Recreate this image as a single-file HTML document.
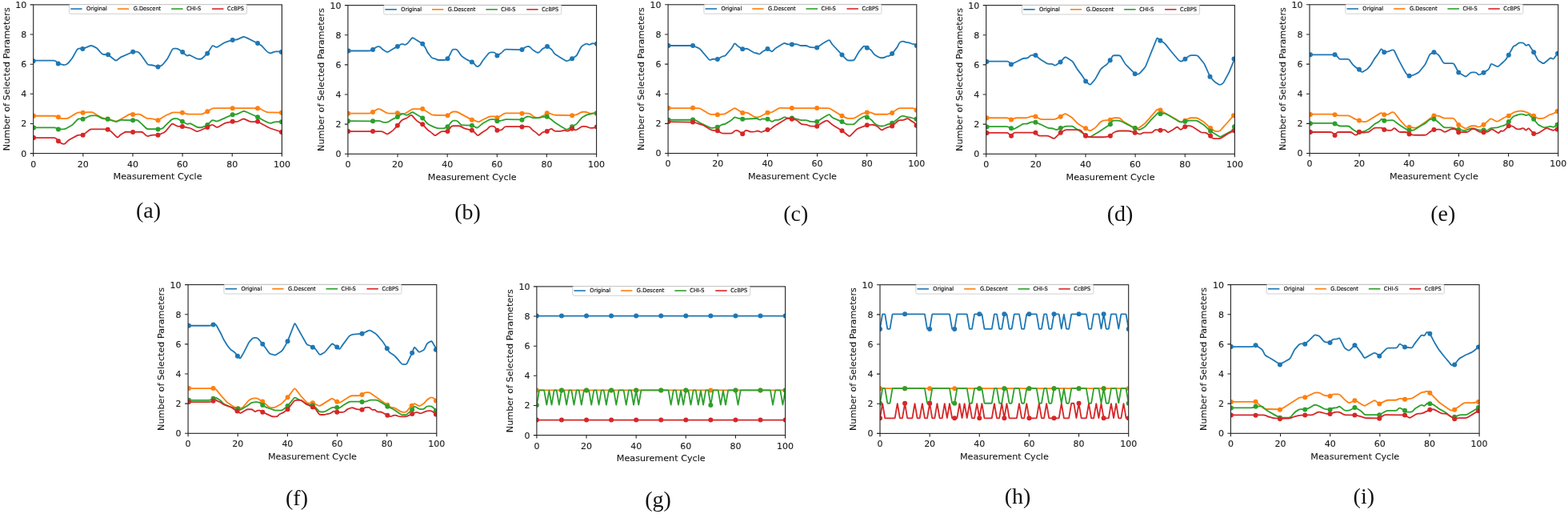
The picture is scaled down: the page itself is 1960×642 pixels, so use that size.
<!DOCTYPE html>
<html><head><meta charset="utf-8"><style>
html,body{margin:0;padding:0;background:#fff;}
svg{display:block;}
.t{font-family:"DejaVu Sans","Liberation Sans",sans-serif;font-size:11px;fill:#1a1a1a;stroke:#1a1a1a;stroke-width:0.12px;}
.al{font-size:11.2px;}
.lg{font-family:"DejaVu Sans","Liberation Sans",sans-serif;font-size:7px;fill:#111;stroke:#111;stroke-width:0.18px;}
.cap{font-family:"Liberation Serif",serif;font-size:28px;fill:#111;}
</style></head><body>
<svg width="1960" height="642" viewBox="0 0 1960 642">
<rect width="1960" height="642" fill="#fff"/>
<clipPath id="cpa"><rect x="41.7" y="5.9" width="310.7" height="185.7"/></clipPath>
<g clip-path="url(#cpa)"><path d="M41.27,75.71L67.22,75.71Q69.02,75.71 70.29,76.99L71.5,78.2Q72.78,79.47 74.52,79.91L78.7,80.98Q80.45,81.43 82.12,80.76L82.86,80.46Q84.53,79.8 85.67,78.4L89.11,74.17Q90.24,72.78 91.12,71.2L95.9,62.59Q96.78,61.02 98.54,60.67L99.09,60.56Q100.86,60.2 102.08,60.61L102.08,60.61Q103.31,61.02 104.97,60.33L112.26,57.3Q113.92,56.61 115.54,57.4L119.65,59.41Q121.27,60.2 122.43,61.57L126.63,66.51Q127.8,67.88 129.59,68L133.35,68.25Q135.14,68.37 136.56,69.48L143.52,74.93Q144.94,76.04 146.36,74.94L149.23,72.73Q150.65,71.63 152.3,70.9L164.52,65.5Q166.16,64.78 167.96,64.73L170.89,64.66Q172.69,64.61 173.89,65.95L175.58,67.84Q176.78,69.18 177.8,70.66L183.91,79.46Q184.94,80.94 186.73,81.09L188.86,81.27Q190.65,81.43 192.37,81.96L195.79,83.02Q197.51,83.55 199.18,82.89L201.22,82.09Q202.9,81.43 204.02,80.02L208.3,74.67Q209.43,73.27 210.25,71.66L215.14,62.13Q215.96,60.53 217.76,60.53L219.87,60.53Q221.67,60.53 223.15,61.56L226.73,64.07Q228.2,65.1 229.57,66.27L232.55,68.83Q233.92,70 235.14,69.18L235.14,69.18Q236.37,68.37 237.97,69.18L245.37,72.94Q246.98,73.76 248.78,73.76L250.08,73.76Q251.88,73.76 253.18,72.51L257.92,67.98Q259.22,66.73 260.2,65.22L264.78,58.12Q265.76,56.61 267.32,57.5L269.09,58.5Q270.65,59.39 272.19,58.44L279.73,53.8Q281.27,52.86 282.98,52.32L289.02,50.45Q290.73,49.92 292.53,49.81L294.16,49.7Q295.96,49.59 297.59,48.84L302.49,46.59Q304.12,45.84 305.35,46.08L305.35,46.08Q306.57,46.33 308.18,47.12L320.47,53.2Q322.08,54 323.63,54.93L325.44,56.01Q326.98,56.94 328.18,58.28L333.12,63.76Q334.33,65.1 336,65.77L336.74,66.07Q338.41,66.73 340.02,65.93L341.7,65.09Q343.31,64.29 345.11,64.29L352.29,64.29" fill="none" stroke="#1f77b4" stroke-width="1.8" stroke-linejoin="round"/><circle cx="41.59" cy="76.2" r="3.0" fill="#1f77b4"/><circle cx="72.78" cy="79.47" r="3.0" fill="#1f77b4"/><circle cx="103.31" cy="61.02" r="3.0" fill="#1f77b4"/><circle cx="135.14" cy="68.37" r="3.0" fill="#1f77b4"/><circle cx="166.16" cy="64.78" r="3.0" fill="#1f77b4"/><circle cx="197.51" cy="83.55" r="3.0" fill="#1f77b4"/><circle cx="228.2" cy="65.1" r="3.0" fill="#1f77b4"/><circle cx="259.22" cy="66.73" r="3.0" fill="#1f77b4"/><circle cx="290.73" cy="49.92" r="3.0" fill="#1f77b4"/><circle cx="322.08" cy="54" r="3.0" fill="#1f77b4"/><circle cx="351.8" cy="65.1" r="3.0" fill="#1f77b4"/><path d="M42.05,144.75L67.59,144.75Q69.39,144.75 71.05,145.46L71.28,145.56Q72.94,146.27 74.46,147.18L74.46,147.18Q75.97,148.09 77.77,148.09L82.78,148.09Q84.58,148.09 86.1,147.13L89.14,145.2Q90.66,144.24 92.22,143.35L96.18,141.08Q97.75,140.19 99.54,140.34L101.83,140.54Q103.62,140.7 105.41,140.52L107.09,140.36Q108.89,140.19 110.69,140.19L114.17,140.19Q115.97,140.19 117.47,141.19L120.55,143.24Q122.05,144.24 123.66,145.05L127.53,146.98Q129.14,147.78 130.92,148.01L132.92,148.27Q134.71,148.49 136.43,149.03L143.62,151.3Q145.34,151.84 146.95,151.03L147.78,150.62Q149.39,149.81 150.95,148.91L161,143.11Q162.56,142.22 164.31,142.62L164.35,142.62Q166.1,143.03 167.9,142.9L172.91,142.54Q174.71,142.42 176.24,143.37L182.29,147.14Q183.82,148.09 185.62,148.09L188.1,148.09Q189.9,148.09 191.63,148.6L195.77,149.81Q197.49,150.32 197.51,150.32L197.51,150.32Q197.53,150.32 199.04,149.34L204.63,145.72Q206.14,144.75 207.78,144L214.12,141.13Q215.76,140.39 217.56,140.44L226.11,140.65Q227.91,140.7 229.63,141.23L232.77,142.19Q234.49,142.72 236.29,142.72L250.92,142.72Q252.72,142.72 254.31,141.87L257.72,140.03Q259.3,139.18 260.84,138.23L264.35,136.07Q265.89,135.13 267.69,135.13L288.9,135.13Q290.7,135.13 292.5,135.13L320.29,135.13Q322.09,135.13 323.82,135.62L323.9,135.64Q325.63,136.14 327.23,136.98L332.14,139.56Q333.73,140.39 335.53,140.42L352.47,140.7" fill="none" stroke="#ff7f0e" stroke-width="1.8" stroke-linejoin="round"/><circle cx="42.05" cy="144.75" r="3.0" fill="#ff7f0e"/><circle cx="72.94" cy="146.27" r="3.0" fill="#ff7f0e"/><circle cx="103.62" cy="140.7" r="3.0" fill="#ff7f0e"/><circle cx="134.71" cy="148.49" r="3.0" fill="#ff7f0e"/><circle cx="166.1" cy="143.03" r="3.0" fill="#ff7f0e"/><circle cx="197.53" cy="150.32" r="3.0" fill="#ff7f0e"/><circle cx="227.91" cy="140.7" r="3.0" fill="#ff7f0e"/><circle cx="259.3" cy="139.18" r="3.0" fill="#ff7f0e"/><circle cx="290.7" cy="135.13" r="3.0" fill="#ff7f0e"/><circle cx="322.09" cy="135.13" r="3.0" fill="#ff7f0e"/><circle cx="351.96" cy="140.7" r="3.0" fill="#ff7f0e"/><path d="M42.05,159.43L67.59,159.43Q69.39,159.43 70.96,160.32L71.37,160.56Q72.94,161.46 74.74,161.41L79.74,161.3Q81.54,161.25 83.1,160.34L89.11,156.8Q90.66,155.89 91.89,154.57L96.52,149.61Q97.75,148.29 99.54,148.45L101.83,148.64Q103.62,148.8 105.25,148.04L111.31,145.21Q112.94,144.44 114.74,144.4L119.24,144.29Q121.04,144.24 122.6,145.13L126.56,147.4Q128.13,148.29 129.92,148.43L132.91,148.66Q134.71,148.8 136.43,149.34L143.62,151.6Q145.34,152.14 146.98,151.39L148.77,150.56Q150.41,149.81 152.2,149.87L164.3,150.26Q166.1,150.32 167.89,150.15L169.88,149.97Q171.67,149.81 173,151.03L176.42,154.16Q177.75,155.38 179.04,156.63L182.53,160Q183.82,161.25 185.62,161.25L195.69,161.25Q197.49,161.25 197.51,161.35L197.51,161.35Q197.53,161.46 199.31,161.2L201.32,160.9Q203.1,160.65 204.35,159.35L206.92,156.68Q208.16,155.38 209.48,154.15L214.44,149.52Q215.76,148.29 217.56,148.23L220.04,148.15Q221.84,148.09 223.37,149.03L226.38,150.89Q227.91,151.84 229.49,152.7L232.41,154.31Q233.99,155.18 235.67,154.55L235.84,154.49Q237.53,153.86 239.1,154.74L245.58,158.35Q247.15,159.23 248.95,159.23L250.92,159.23Q252.72,159.23 254.33,158.41L257.7,156.7Q259.3,155.89 260.58,154.61L264.11,151.08Q265.38,149.81 267.07,150.43L269.26,151.22Q270.95,151.84 272.6,151.12L289.05,143.95Q290.7,143.23 292.49,143.06L294.47,142.88Q296.27,142.72 297.88,141.92L302.76,139.48Q304.37,138.67 306.08,139.23L306.71,139.43Q308.42,139.99 310.05,140.74L320.45,145.51Q322.09,146.27 323.66,147.15L329.13,150.24Q330.7,151.13 332.35,151.84L336.13,153.46Q337.78,154.16 339.49,153.6L342.15,152.71Q343.86,152.14 345.66,152.14L352.47,152.14" fill="none" stroke="#2ca02c" stroke-width="1.8" stroke-linejoin="round"/><circle cx="42.05" cy="159.43" r="3.0" fill="#2ca02c"/><circle cx="72.94" cy="161.46" r="3.0" fill="#2ca02c"/><circle cx="103.62" cy="148.8" r="3.0" fill="#2ca02c"/><circle cx="134.71" cy="148.8" r="3.0" fill="#2ca02c"/><circle cx="166.1" cy="150.32" r="3.0" fill="#2ca02c"/><circle cx="197.53" cy="161.46" r="3.0" fill="#2ca02c"/><circle cx="227.91" cy="151.84" r="3.0" fill="#2ca02c"/><circle cx="259.3" cy="155.89" r="3.0" fill="#2ca02c"/><circle cx="290.7" cy="143.23" r="3.0" fill="#2ca02c"/><circle cx="322.09" cy="146.27" r="3.0" fill="#2ca02c"/><circle cx="351.96" cy="152.14" r="3.0" fill="#2ca02c"/><path d="M42.05,172.09L67.59,172.09Q69.39,172.09 70.58,173.44L71.75,174.78Q72.94,176.14 74.3,177.31L75.11,178.01Q76.48,179.18 78.23,179.61L78.79,179.75Q80.53,180.19 81.8,178.92L84.32,176.4Q85.59,175.13 87.18,174.27L96.16,169.4Q97.75,168.54 99.55,168.61L101.82,168.68Q103.62,168.75 105.04,167.64L111.52,162.57Q112.94,161.46 114.74,161.46L130.88,161.46Q132.68,161.46 133.7,161.56L133.7,161.56Q134.71,161.66 136.24,162.61L137.74,163.54Q139.27,164.49 140.54,165.77L145.59,170.82Q146.86,172.09 148.13,170.82L149.13,169.82Q150.41,168.54 151.93,167.58L154.96,165.66Q156.48,164.7 158.28,164.75L164.3,164.94Q166.1,165 167.9,164.95L175.95,164.74Q177.75,164.7 179.06,165.92L182.51,169.14Q183.82,170.37 185.57,169.92L189.17,168.99Q190.91,168.54 192.71,168.6L195.69,168.69Q197.49,168.75 197.51,168.75L197.51,168.75Q197.53,168.75 199.18,168.03L204.49,165.72Q206.14,165 207.3,163.62L214.09,155.54Q215.25,154.16 216.82,155.06L220.27,157.02Q221.84,157.91 223.64,157.91L226.11,157.91Q227.91,157.91 229.66,158.35L232.24,158.99Q233.99,159.43 235.76,159.68L235.76,159.68Q237.53,159.94 239.14,160.74L245.04,163.69Q246.65,164.49 248.29,163.77L257.66,159.65Q259.3,158.92 260.86,158.02L263.82,156.29Q265.38,155.38 266.88,156.38L269.96,158.43Q271.46,159.43 273.01,158.53L279.52,154.76Q281.08,153.86 282.84,153.49L288.93,152.21Q290.7,151.84 292.49,152L294.47,152.18Q296.27,152.34 297.86,151.51L302.77,148.93Q304.37,148.09 306,148.86L311.35,151.37Q312.97,152.14 314.77,152.08L320.29,151.9Q322.09,151.84 323.66,152.7L335.2,159.07Q336.77,159.94 338.49,160.49L352.47,165" fill="none" stroke="#d62728" stroke-width="1.8" stroke-linejoin="round"/><circle cx="42.05" cy="172.09" r="3.0" fill="#d62728"/><circle cx="72.94" cy="176.14" r="3.0" fill="#d62728"/><circle cx="103.62" cy="168.75" r="3.0" fill="#d62728"/><circle cx="134.71" cy="161.66" r="3.0" fill="#d62728"/><circle cx="166.1" cy="165" r="3.0" fill="#d62728"/><circle cx="197.53" cy="168.75" r="3.0" fill="#d62728"/><circle cx="227.91" cy="157.91" r="3.0" fill="#d62728"/><circle cx="259.3" cy="158.92" r="3.0" fill="#d62728"/><circle cx="290.7" cy="151.84" r="3.0" fill="#d62728"/><circle cx="322.09" cy="151.84" r="3.0" fill="#d62728"/><circle cx="351.96" cy="165" r="3.0" fill="#d62728"/></g>
<rect x="41.7" y="5.9" width="310.7" height="185.7" fill="none" stroke="#222" stroke-width="1.1"/>
<path d="M37.7,191.6H41.7M41.7,191.6V195.6M37.7,154.46H41.7M103.84,191.6V195.6M37.7,117.32H41.7M165.98,191.6V195.6M37.7,80.18H41.7M228.12,191.6V195.6M37.7,43.04H41.7M290.26,191.6V195.6M37.7,5.9H41.7M352.4,191.6V195.6" stroke="#222" stroke-width="1.1"/>
<text x="33.2" y="195.5" text-anchor="end" class="t">0</text>
<text x="41.7" y="208.5" text-anchor="middle" class="t">0</text>
<text x="33.2" y="158.36" text-anchor="end" class="t">2</text>
<text x="103.84" y="208.5" text-anchor="middle" class="t">20</text>
<text x="33.2" y="121.22" text-anchor="end" class="t">4</text>
<text x="165.98" y="208.5" text-anchor="middle" class="t">40</text>
<text x="33.2" y="84.08" text-anchor="end" class="t">6</text>
<text x="228.12" y="208.5" text-anchor="middle" class="t">60</text>
<text x="33.2" y="46.94" text-anchor="end" class="t">8</text>
<text x="290.26" y="208.5" text-anchor="middle" class="t">80</text>
<text x="33.2" y="9.8" text-anchor="end" class="t">10</text>
<text x="352.4" y="208.5" text-anchor="middle" class="t">100</text>
<text x="197.05" y="224.4" text-anchor="middle" class="t al">Measurement Cycle</text>
<text transform="translate(11.7,98.75) rotate(-90)" text-anchor="middle" class="t al">Number of Selected Parameters</text>
<rect x="86.55" y="5.5" width="222" height="11.8" rx="1.5" fill="#fff" fill-opacity="0.9" stroke="#ccc" stroke-width="0.9"/>
<path d="M88.25,11.1H102.65" stroke="#1f77b4" stroke-width="1.6"/>
<text x="108.05" y="13.3" class="lg" textLength="25.8" lengthAdjust="spacingAndGlyphs">Original</text>
<path d="M146.85,11.1H161.15" stroke="#ff7f0e" stroke-width="1.6"/>
<text x="166.65" y="13.3" class="lg" textLength="34.6" lengthAdjust="spacingAndGlyphs">G.Descent</text>
<path d="M214.15,11.1H228.65" stroke="#2ca02c" stroke-width="1.6"/>
<text x="233.15" y="13.3" class="lg" textLength="18.2" lengthAdjust="spacingAndGlyphs">CHI-S</text>
<path d="M265.05,11.1H279.45" stroke="#d62728" stroke-width="1.6"/>
<text x="284.05" y="13.3" class="lg" textLength="20.8" lengthAdjust="spacingAndGlyphs">CcBPS</text>
<text x="185.5" y="271.5" text-anchor="middle" class="cap">(a)</text>
<clipPath id="cpb"><rect x="434.9" y="6.6" width="310.7" height="185.7"/></clipPath>
<g clip-path="url(#cpb)"><path d="M435.21,63.5L460.98,63.5Q462.78,63.5 464.41,62.8L464.41,62.8Q466.05,62.1 467.48,61.01L469.76,59.27Q471.19,58.18 472.82,58.04L472.82,58.04Q474.46,57.9 475.73,59.17L477.39,60.83Q478.66,62.1 480.22,63.01L482.72,64.47Q484.27,65.37 485.8,64.42L490.22,61.65Q491.75,60.7 493.33,59.84L495.31,58.76Q496.89,57.9 498.45,57.01L501.4,55.33Q502.96,54.44 504.53,55.33L504.67,55.42Q506.23,56.31 507.74,55.32L508,55.15Q509.5,54.16 510.64,52.76L514.44,48.08Q515.58,46.68 517.1,47.64L526.67,53.67Q528.2,54.63 529.28,56.07L529.92,56.92Q531,58.36 531.8,59.97L533.93,64.23Q534.74,65.84 535.86,67.25L539.22,71.44Q540.35,72.85 541.75,72.85L541.75,72.85Q543.15,72.85 544.71,73.75L545.33,74.1Q546.89,75 548.69,75L554.43,75Q556.23,75 557.83,74.18L557.9,74.14Q559.5,73.32 560.46,71.79L560.89,71.11Q561.84,69.58 562.61,67.95L564.81,63.26Q565.58,61.64 567.38,61.64L569.39,61.64Q571.19,61.64 572.19,63.13L575.8,68.55Q576.79,70.05 578.29,71.05L580.9,72.79Q582.4,73.79 584.01,74.59L588.27,76.72Q589.88,77.52 590.34,77.52L590.34,77.52Q590.8,77.52 592.02,78.85L595.19,82.28Q596.41,83.6 597.97,82.71L598.12,82.62Q599.68,81.73 600.63,80.2L602.48,77.19Q603.42,75.65 604.56,74.26L610.69,66.77Q611.83,65.37 613.63,65.37L616.57,65.37Q618.37,65.37 619.47,66.8L620.36,67.96Q621.46,69.39 622.99,68.45L625.72,66.78Q627.25,65.84 628.45,64.5L629.79,62.98Q630.99,61.64 632.79,61.67L650.69,62.06Q652.49,62.1 653.92,61.01L656.2,59.27Q657.63,58.18 659.42,58.06L660.04,58.02Q661.83,57.9 663.03,59.24L664.37,60.76Q665.57,62.1 667.1,63.05L670.11,64.9Q671.64,65.84 672.81,65.75L672.81,65.75Q673.98,65.65 675.13,64.27L676.57,62.55Q677.72,61.17 679.32,60.34L682.47,58.72Q684.07,57.9 685.53,58.95L688.41,61.05Q689.87,62.1 690.84,63.62L692.17,65.72Q693.14,67.24 694.66,68.21L696.76,69.55Q698.28,70.51 699.83,71.43L707.01,75.67Q708.56,76.59 710.17,75.78L713.49,74.12Q715.1,73.32 716.6,72.32L719.21,70.58Q720.71,69.58 721.54,67.98L725.95,59.49Q726.79,57.9 728.35,57L731.76,55.05Q733.33,54.16 734.83,55.15L735.09,55.32Q736.6,56.31 738.1,55.32L738.36,55.15Q739.87,54.16 741.66,54.29L746.41,54.63" fill="none" stroke="#1f77b4" stroke-width="1.8" stroke-linejoin="round"/><circle cx="435.49" cy="63.5" r="3.0" fill="#1f77b4"/><circle cx="466.05" cy="62.1" r="3.0" fill="#1f77b4"/><circle cx="496.89" cy="57.9" r="3.0" fill="#1f77b4"/><circle cx="528.2" cy="54.63" r="3.0" fill="#1f77b4"/><circle cx="559.5" cy="73.32" r="3.0" fill="#1f77b4"/><circle cx="589.88" cy="77.52" r="3.0" fill="#1f77b4"/><circle cx="621.46" cy="69.39" r="3.0" fill="#1f77b4"/><circle cx="652.49" cy="62.1" r="3.0" fill="#1f77b4"/><circle cx="684.07" cy="57.9" r="3.0" fill="#1f77b4"/><circle cx="715.1" cy="73.32" r="3.0" fill="#1f77b4"/><circle cx="745.94" cy="54.63" r="3.0" fill="#1f77b4"/><path d="M435.21,141.64L460.98,141.64Q462.78,141.64 464.38,140.81L464.45,140.78Q466.05,139.95 467.54,138.95L470.16,137.21Q471.65,136.21 473.29,136.21L473.29,136.21Q474.93,136.21 476.48,137.12L482.71,140.73Q484.27,141.64 486.07,141.64L495.09,141.64Q496.89,141.64 498.68,141.77L503.97,142.16Q505.77,142.29 507.28,141.31L513.6,137.2Q515.11,136.21 516.91,136.19L526.4,136.05Q528.2,136.03 529.72,136.99L538.82,142.73Q540.35,143.69 542.15,143.74L557.71,144.11Q559.5,144.16 560.93,143.06L564.15,140.58Q565.58,139.49 567.38,139.49L569.39,139.49Q571.19,139.49 572.76,140.35L588.3,148.9Q589.88,149.77 590.34,149.63L590.34,149.63Q590.8,149.49 592.47,150.17L596.62,151.88Q598.28,152.57 599.82,151.64L601.41,150.69Q602.95,149.77 604.58,149L610.67,146.14Q612.3,145.37 614.1,145.37L617.04,145.37Q618.84,145.37 620.15,146.17L620.15,146.17Q621.46,146.96 622.95,146.17L622.95,146.17Q624.45,145.37 625.98,144.43L629.46,142.3Q630.99,141.36 632.79,141.36L650.69,141.36Q652.49,141.36 654.29,141.41L660.03,141.58Q661.83,141.64 663.28,142.71L666.93,145.42Q668.37,146.5 670.15,146.78L671.27,146.96Q673.05,147.24 674.67,146.48L677.96,144.93Q679.59,144.16 681.09,143.16L682.3,142.35Q683.79,141.36 685.58,141.55L686.21,141.62Q688,141.82 689.67,142.49L691,143.02Q692.67,143.69 694.47,143.73L713.3,144.12Q715.1,144.16 716.88,143.86L718.93,143.52Q720.71,143.22 722.3,142.38L725.66,140.61Q727.25,139.77 729.05,139.77L731.06,139.77Q732.86,139.77 734.51,140.49L735.89,141.1Q737.53,141.82 739.33,141.67L746.41,141.07" fill="none" stroke="#ff7f0e" stroke-width="1.8" stroke-linejoin="round"/><circle cx="435.21" cy="141.64" r="3.0" fill="#ff7f0e"/><circle cx="466.05" cy="139.95" r="3.0" fill="#ff7f0e"/><circle cx="496.89" cy="141.36" r="3.0" fill="#ff7f0e"/><circle cx="528.2" cy="136.03" r="3.0" fill="#ff7f0e"/><circle cx="559.5" cy="144.16" r="3.0" fill="#ff7f0e"/><circle cx="589.88" cy="149.77" r="3.0" fill="#ff7f0e"/><circle cx="621.46" cy="146.96" r="3.0" fill="#ff7f0e"/><circle cx="652.49" cy="141.64" r="3.0" fill="#ff7f0e"/><circle cx="683.79" cy="141.36" r="3.0" fill="#ff7f0e"/><circle cx="715.1" cy="144.16" r="3.0" fill="#ff7f0e"/><circle cx="745.94" cy="141.07" r="3.0" fill="#ff7f0e"/><path d="M435.21,151.17L464.25,151.34Q466.05,151.36 467.84,151.22L472.66,150.84Q474.46,150.7 476.06,151.52L477.06,152.03Q478.66,152.85 480.46,152.85L482.47,152.85Q484.27,152.85 485.8,151.91L489.28,149.77Q490.81,148.83 492.45,148.08L495.25,146.78Q496.89,146.03 498.37,145L501.48,142.85Q502.96,141.82 504.62,142.51L506.91,143.47Q508.57,144.16 510.1,143.2L514.05,140.72Q515.58,139.77 517.12,140.7L526.66,146.5Q528.2,147.43 529.38,148.78L533.55,153.55Q534.74,154.91 536.35,155.71L539.67,157.37Q541.28,158.18 542.96,158.82L545.21,159.68Q546.89,160.33 548.69,160.33L553.5,160.33Q555.3,160.33 556.9,159.51L557.9,159Q559.5,158.18 560.64,156.78L564.44,152.1Q565.58,150.7 567.38,150.7L569.39,150.7Q571.19,150.7 572.46,151.97L575.52,155.04Q576.79,156.31 578.59,156.37L588.08,156.71Q589.88,156.78 590.34,156.78L590.34,156.78Q590.8,156.78 592.36,157.68L594.86,159.14Q596.41,160.05 597.78,158.88L601.59,155.61Q602.95,154.44 604.52,153.55L610.74,150Q612.3,149.11 614.1,149.11L617.04,149.11Q618.84,149.11 620.15,150.14L620.15,150.14Q621.46,151.17 623.25,151.02L625.46,150.85Q627.25,150.7 628.91,150L629.33,149.82Q630.99,149.11 632.79,149.14L650.69,149.45Q652.49,149.49 654.01,148.53L657.5,146.33Q659.03,145.37 660.82,145.55L660.98,145.57Q662.77,145.75 664.17,146.5L664.17,146.5Q665.57,147.24 667.37,147.24L672.18,147.24Q673.98,147.24 675.72,146.78L677.85,146.21Q679.59,145.75 681.39,145.75L681.99,145.75Q683.79,145.75 685.32,146.7L686.47,147.41Q688,148.36 689.38,149.52L692.22,151.89Q693.61,153.04 695.12,154.01L698.64,156.27Q700.15,157.24 701.7,158.16L707.01,161.28Q708.56,162.2 710.09,161.25L713.57,159.12Q715.1,158.18 716.66,157.27L719.16,155.81Q720.71,154.91 721.85,153.52L726.11,148.35Q727.25,146.96 728.82,146.07L732.23,144.12Q733.79,143.22 735.58,143L735.75,142.98Q737.53,142.76 739.22,142.12L739.59,141.99Q741.27,141.36 743.07,141.45L746.41,141.64" fill="none" stroke="#2ca02c" stroke-width="1.8" stroke-linejoin="round"/><circle cx="435.21" cy="151.17" r="3.0" fill="#2ca02c"/><circle cx="466.05" cy="151.36" r="3.0" fill="#2ca02c"/><circle cx="496.89" cy="146.03" r="3.0" fill="#2ca02c"/><circle cx="528.2" cy="147.43" r="3.0" fill="#2ca02c"/><circle cx="559.5" cy="158.18" r="3.0" fill="#2ca02c"/><circle cx="589.88" cy="156.78" r="3.0" fill="#2ca02c"/><circle cx="621.46" cy="151.17" r="3.0" fill="#2ca02c"/><circle cx="652.49" cy="149.77" r="3.0" fill="#2ca02c"/><circle cx="683.79" cy="145.75" r="3.0" fill="#2ca02c"/><circle cx="715.1" cy="158.18" r="3.0" fill="#2ca02c"/><circle cx="745.94" cy="141.64" r="3.0" fill="#2ca02c"/><path d="M435.21,164.07L464.25,164.07Q466.05,164.07 467.85,164.07L475.93,164.07Q477.73,164.07 479.29,164.96L482.71,166.91Q484.27,167.8 485.76,166.79L489.33,164.34Q490.81,163.32 492.04,162L495.66,158.09Q496.89,156.78 498.01,155.37L501.37,151.17Q502.5,149.77 504.18,149.12L506.89,148.08Q508.57,147.43 510.01,146.35L512.74,144.3Q514.18,143.22 515.36,144.58L519.53,149.35Q520.72,150.7 522.25,151.65L526.67,154.42Q528.2,155.37 529.42,156.69L533.51,161.07Q534.74,162.38 536.21,163.42L537.94,164.62Q539.41,165.65 540.71,166.9L542.32,168.43Q543.62,169.67 545.1,168.66L550.07,165.27Q551.56,164.25 553.36,164.21L557.71,164.11Q559.5,164.07 560.59,162.63L563.56,158.68Q564.64,157.24 566.44,157.24L573.13,157.24Q574.93,157.24 576.48,158.15L578.98,159.61Q580.53,160.51 582.28,160.95L588.13,162.41Q589.88,162.85 590.34,162.85L590.34,162.85Q590.8,162.85 592.05,164.15L596.1,168.37Q597.35,169.67 598.75,168.55L601.55,166.31Q602.95,165.19 604.51,164.28L607.01,162.82Q608.56,161.92 609.76,160.57L611.1,159.06Q612.3,157.71 614.1,157.71L616.11,157.71Q617.91,157.71 618.93,159.19L620.43,161.37Q621.46,162.85 623.25,162.71L625.46,162.53Q627.25,162.38 628.45,161.04L629.79,159.52Q630.99,158.18 632.79,158.18L650.69,158.18Q652.49,158.18 654.29,158.18L660.03,158.18Q661.83,158.18 663.03,159.52L664.37,161.04Q665.57,162.38 667.04,163.42L668.77,164.62Q670.24,165.65 671.52,166.93L672.71,168.12Q673.98,169.39 675.18,168.05L676.52,166.53Q677.72,165.19 679.49,164.86L682.02,164.39Q683.79,164.07 685.29,163.07L687.9,161.33Q689.4,160.33 690.64,161.63L691.44,162.48Q692.67,163.79 694.47,163.79L700.22,163.79Q702.02,163.79 703.65,163.08L703.65,163.08Q705.29,162.38 706.96,163.05L707.82,163.4Q709.5,164.07 711.04,163.14L713.56,161.63Q715.1,160.7 716.74,161.44L717.2,161.64Q718.84,162.38 719.78,162.29L719.78,162.29Q720.71,162.2 722.21,161.21L725.75,158.89Q727.25,157.9 729.05,157.9L731.06,157.9Q732.86,157.9 734.5,158.65L735.9,159.29Q737.53,160.05 739.33,159.91L739.48,159.9Q741.27,159.77 743.02,159.32L746.41,158.46" fill="none" stroke="#d62728" stroke-width="1.8" stroke-linejoin="round"/><circle cx="435.21" cy="164.07" r="3.0" fill="#d62728"/><circle cx="466.05" cy="164.07" r="3.0" fill="#d62728"/><circle cx="496.89" cy="156.78" r="3.0" fill="#d62728"/><circle cx="528.2" cy="155.37" r="3.0" fill="#d62728"/><circle cx="559.5" cy="164.07" r="3.0" fill="#d62728"/><circle cx="589.88" cy="162.85" r="3.0" fill="#d62728"/><circle cx="621.46" cy="162.85" r="3.0" fill="#d62728"/><circle cx="652.49" cy="158.46" r="3.0" fill="#d62728"/><circle cx="683.79" cy="164.07" r="3.0" fill="#d62728"/><circle cx="715.1" cy="160.7" r="3.0" fill="#d62728"/><circle cx="745.94" cy="158.46" r="3.0" fill="#d62728"/></g>
<rect x="434.9" y="6.6" width="310.7" height="185.7" fill="none" stroke="#222" stroke-width="1.1"/>
<path d="M430.9,192.3H434.9M434.9,192.3V196.3M430.9,155.16H434.9M497.04,192.3V196.3M430.9,118.02H434.9M559.18,192.3V196.3M430.9,80.88H434.9M621.32,192.3V196.3M430.9,43.74H434.9M683.46,192.3V196.3M430.9,6.6H434.9M745.6,192.3V196.3" stroke="#222" stroke-width="1.1"/>
<text x="426.4" y="196.2" text-anchor="end" class="t">0</text>
<text x="434.9" y="209.2" text-anchor="middle" class="t">0</text>
<text x="426.4" y="159.06" text-anchor="end" class="t">2</text>
<text x="497.04" y="209.2" text-anchor="middle" class="t">20</text>
<text x="426.4" y="121.92" text-anchor="end" class="t">4</text>
<text x="559.18" y="209.2" text-anchor="middle" class="t">40</text>
<text x="426.4" y="84.78" text-anchor="end" class="t">6</text>
<text x="621.32" y="209.2" text-anchor="middle" class="t">60</text>
<text x="426.4" y="47.64" text-anchor="end" class="t">8</text>
<text x="683.46" y="209.2" text-anchor="middle" class="t">80</text>
<text x="426.4" y="10.5" text-anchor="end" class="t">10</text>
<text x="745.6" y="209.2" text-anchor="middle" class="t">100</text>
<text x="590.25" y="225.1" text-anchor="middle" class="t al">Measurement Cycle</text>
<text transform="translate(404.9,99.45) rotate(-90)" text-anchor="middle" class="t al">Number of Selected Parameters</text>
<rect x="479.75" y="6.2" width="222" height="11.8" rx="1.5" fill="#fff" fill-opacity="0.9" stroke="#ccc" stroke-width="0.9"/>
<path d="M481.45,11.8H495.85" stroke="#1f77b4" stroke-width="1.6"/>
<text x="501.25" y="14" class="lg" textLength="25.8" lengthAdjust="spacingAndGlyphs">Original</text>
<path d="M540.05,11.8H554.35" stroke="#ff7f0e" stroke-width="1.6"/>
<text x="559.85" y="14" class="lg" textLength="34.6" lengthAdjust="spacingAndGlyphs">G.Descent</text>
<path d="M607.35,11.8H621.85" stroke="#2ca02c" stroke-width="1.6"/>
<text x="626.35" y="14" class="lg" textLength="18.2" lengthAdjust="spacingAndGlyphs">CHI-S</text>
<path d="M658.25,11.8H672.65" stroke="#d62728" stroke-width="1.6"/>
<text x="677.25" y="14" class="lg" textLength="20.8" lengthAdjust="spacingAndGlyphs">CcBPS</text>
<text x="584.6" y="273.8" text-anchor="middle" class="cap">(b)</text>
<clipPath id="cpc"><rect x="835.1" y="5.8" width="310.7" height="185.7"/></clipPath>
<g clip-path="url(#cpc)"><path d="M835.21,57.01L860.98,57.01Q862.78,57.01 864.41,57.01L864.41,57.01Q866.05,57.01 867.7,57.71L872.8,59.86Q874.46,60.56 875.63,61.93L885.91,73.96Q887.07,75.33 888.72,74.59L889.17,74.38Q890.81,73.64 892.61,73.78L895.09,73.97Q896.89,74.11 898.42,73.17L901.43,71.32Q902.96,70.37 904.6,70.14L904.6,70.14Q906.23,69.91 907.41,68.54L913.94,60.99Q915.11,59.63 915.97,58.04L917.53,55.14Q918.38,53.55 919.57,54.91L920.47,55.94Q921.65,57.29 923.19,58.23L926.66,60.37Q928.2,61.31 929.98,61.07L932.02,60.8Q933.8,60.56 935.35,61.49L941.61,65.24Q943.15,66.17 944.55,66.26L944.55,66.26Q945.95,66.36 947.58,67.13L947.88,67.27Q949.5,68.04 950.72,66.71L951.28,66.09Q952.5,64.77 954.08,63.92L957.92,61.88Q959.5,61.03 961,62.03L963.61,63.77Q965.11,64.77 966.3,63.41L967.2,62.38Q968.38,61.03 969.92,60.08L979,54.49Q980.53,53.55 982.14,54.36L982.66,54.62Q984.27,55.42 986.07,55.42L988.08,55.42Q989.88,55.42 990.34,55.42L990.34,55.42Q990.8,55.42 992.6,55.26L994.15,55.12Q995.94,54.95 997.56,55.74L998.53,56.22Q1000.15,57.01 1001.95,57.01L1006.76,57.01Q1008.56,57.01 1010.12,57.91L1010.74,58.26Q1012.3,59.16 1014.1,59.22L1019.38,59.38Q1021.18,59.44 1022.65,58.4L1026.72,55.52Q1028.19,54.49 1029.74,53.57L1035.05,50.45Q1036.6,49.53 1037.56,51.05L1039.37,53.9Q1040.34,55.42 1041.56,56.74L1051.26,67.19Q1052.49,68.5 1053.71,69.82L1057.8,74.2Q1059.03,75.51 1060.83,75.51L1065.64,75.51Q1067.44,75.51 1068.32,73.95L1072.63,66.33Q1073.51,64.77 1074.67,63.39L1078.9,58.39Q1080.06,57.01 1081.53,58.04L1082.32,58.59Q1083.79,59.63 1085.37,60.49L1087.35,61.57Q1088.93,62.43 1089.93,63.93L1091.67,66.54Q1092.67,68.04 1094.22,68.96L1098.14,71.32Q1099.68,72.24 1101.48,72.24L1103.02,72.24Q1104.82,72.24 1106.38,71.35L1107,70.99Q1108.56,70.09 1109.96,70.09L1109.96,70.09Q1111.36,70.09 1112.77,68.97L1113.7,68.23Q1115.1,67.1 1116.21,65.68L1120.54,60.11Q1121.64,58.69 1122.45,57.08L1123.64,54.69Q1124.45,53.08 1126.06,52.28L1126.58,52.02Q1128.19,51.21 1129.86,51.88L1131.19,52.42Q1132.86,53.08 1134.66,53.08L1134.8,53.08Q1136.6,53.08 1138.16,53.98L1138.31,54.06Q1139.87,54.95 1141.65,55.21L1146.41,55.89" fill="none" stroke="#1f77b4" stroke-width="1.8" stroke-linejoin="round"/><circle cx="835.49" cy="57.01" r="3.0" fill="#1f77b4"/><circle cx="866.05" cy="57.01" r="3.0" fill="#1f77b4"/><circle cx="896.89" cy="74.11" r="3.0" fill="#1f77b4"/><circle cx="928.2" cy="61.31" r="3.0" fill="#1f77b4"/><circle cx="959.5" cy="61.03" r="3.0" fill="#1f77b4"/><circle cx="989.88" cy="55.42" r="3.0" fill="#1f77b4"/><circle cx="1021.18" cy="59.44" r="3.0" fill="#1f77b4"/><circle cx="1052.49" cy="68.5" r="3.0" fill="#1f77b4"/><circle cx="1083.79" cy="59.63" r="3.0" fill="#1f77b4"/><circle cx="1115.1" cy="67.1" r="3.0" fill="#1f77b4"/><circle cx="1145.76" cy="57.01" r="3.0" fill="#1f77b4"/><path d="M835.21,135.09L864.25,135.09Q866.05,135.09 867.85,135.09L872.66,135.09Q874.46,135.09 876,136.03L885.54,141.82Q887.07,142.76 888.87,142.79L895.09,142.91Q896.89,142.94 898.69,142.87L903.97,142.65Q905.77,142.57 907.3,141.63L916.85,135.76Q918.38,134.81 919.91,135.76L926.67,139.94Q928.2,140.89 929.99,140.74L932.01,140.57Q933.8,140.42 935.33,141.38L941.63,145.35Q943.15,146.31 944.95,146.31L946.96,146.31Q948.76,146.31 950.35,145.48L957.91,141.53Q959.5,140.7 961.3,140.6L962.85,140.52Q964.64,140.42 966.19,139.49L972.45,135.74Q973.99,134.81 975.79,134.84L988.08,135.06Q989.88,135.09 990.34,135.09L990.34,135.09Q990.8,135.09 992.6,135.09L1019.38,135.09Q1021.18,135.09 1022.98,135.09L1034.8,135.09Q1036.6,135.09 1038.13,136.03L1050.95,143.87Q1052.49,144.81 1054.11,145.58L1057.4,147.13Q1059.03,147.9 1060.83,147.9L1065.64,147.9Q1067.44,147.9 1068.99,146.98L1076.17,142.74Q1077.72,141.82 1079.47,141.42L1082.04,140.83Q1083.79,140.42 1085.59,140.42L1087.13,140.42Q1088.93,140.42 1090.51,141.29L1091.57,141.88Q1093.14,142.76 1094.94,142.76L1107.7,142.76Q1109.5,142.76 1111.2,142.19L1113.4,141.46Q1115.1,140.89 1116.59,139.87L1122.03,136.11Q1123.51,135.09 1125.31,135.09L1140.41,135.09Q1142.21,135.09 1143.75,136.02L1146.41,137.62" fill="none" stroke="#ff7f0e" stroke-width="1.8" stroke-linejoin="round"/><circle cx="835.49" cy="135.09" r="3.0" fill="#ff7f0e"/><circle cx="866.05" cy="134.81" r="3.0" fill="#ff7f0e"/><circle cx="896.89" cy="143.22" r="3.0" fill="#ff7f0e"/><circle cx="928.2" cy="140.89" r="3.0" fill="#ff7f0e"/><circle cx="959.5" cy="140.7" r="3.0" fill="#ff7f0e"/><circle cx="989.88" cy="135.09" r="3.0" fill="#ff7f0e"/><circle cx="1021.18" cy="135.09" r="3.0" fill="#ff7f0e"/><circle cx="1052.49" cy="144.81" r="3.0" fill="#ff7f0e"/><circle cx="1083.79" cy="140.42" r="3.0" fill="#ff7f0e"/><circle cx="1115.1" cy="140.89" r="3.0" fill="#ff7f0e"/><circle cx="1145.48" cy="137.62" r="3.0" fill="#ff7f0e"/><path d="M835.21,149.77L864.25,149.77Q866.05,149.77 867.68,149.91L867.68,149.91Q869.32,150.05 870.88,150.95L876.17,154.01Q877.73,154.91 879.37,155.66L887.31,159.3Q888.94,160.05 890.72,159.77L895.11,159.1Q896.89,158.83 898.45,157.94L901.4,156.26Q902.96,155.37 904.6,155.23L904.6,155.23Q906.23,155.09 907.76,154.13L913.59,150.45Q915.11,149.49 916.35,148.18L917.15,147.34Q918.38,146.03 920.02,146.73L920.02,146.73Q921.65,147.43 923.41,147.81L926.44,148.45Q928.2,148.83 929.99,148.74L945.09,147.99Q946.89,147.9 948.29,148.97L948.29,148.97Q949.69,150.05 951.09,149.21L951.09,149.21Q952.5,148.36 954.29,148.48L957.71,148.71Q959.5,148.83 961.04,149.78L963.58,151.34Q965.11,152.29 966.6,151.27L966.9,151.06Q968.38,150.05 970.18,149.96L972.19,149.86Q973.99,149.77 975.55,148.87L978.97,146.92Q980.53,146.03 982.22,146.66L982.59,146.8Q984.27,147.43 986.07,147.49L988.08,147.56Q989.88,147.62 990.34,147.62L990.34,147.62Q990.8,147.62 992.58,147.9L993.7,148.08Q995.48,148.36 997.17,148.97L998.46,149.44Q1000.15,150.05 1001.95,150.05L1006.76,150.05Q1008.56,150.05 1010.17,150.85L1010.69,151.11Q1012.3,151.92 1014.1,151.95L1019.38,152.06Q1021.18,152.1 1022.68,151.1L1026.69,148.43Q1028.19,147.43 1029.75,146.53L1035.04,143.47Q1036.6,142.57 1037.76,143.94L1039.17,145.59Q1040.34,146.96 1041.99,147.66L1050.83,151.4Q1052.49,152.1 1054.04,153.01L1056.54,154.47Q1058.09,155.37 1059.89,155.37L1065.64,155.37Q1067.44,155.37 1068.71,154.1L1072.71,150.1Q1073.98,148.83 1075.55,147.95L1079.89,145.51Q1081.46,144.63 1082.63,145.56L1082.63,145.56Q1083.79,146.5 1085.37,147.36L1087.35,148.44Q1088.93,149.3 1090.11,150.66L1092.43,153.36Q1093.61,154.72 1095.22,155.52L1097.6,156.72Q1099.21,157.52 1101.01,157.52L1103.02,157.52Q1104.82,157.52 1106.46,156.77L1107.86,156.13Q1109.5,155.37 1111.23,154.88L1113.37,154.28Q1115.1,153.79 1116.57,152.74L1119.25,150.81Q1120.71,149.77 1122.09,148.61L1124.93,146.25Q1126.32,145.09 1128.11,144.96L1128.26,144.95Q1130.06,144.81 1131.73,145.48L1132.12,145.64Q1133.79,146.31 1135.59,146.4L1135.73,146.41Q1137.53,146.5 1139.22,147.13L1139.59,147.27Q1141.27,147.9 1143.04,148.22L1146.41,148.83" fill="none" stroke="#2ca02c" stroke-width="1.8" stroke-linejoin="round"/><circle cx="835.49" cy="149.77" r="3.0" fill="#2ca02c"/><circle cx="866.05" cy="149.49" r="3.0" fill="#2ca02c"/><circle cx="896.89" cy="158.83" r="3.0" fill="#2ca02c"/><circle cx="928.2" cy="148.83" r="3.0" fill="#2ca02c"/><circle cx="959.5" cy="148.83" r="3.0" fill="#2ca02c"/><circle cx="989.88" cy="147.62" r="3.0" fill="#2ca02c"/><circle cx="1021.18" cy="152.1" r="3.0" fill="#2ca02c"/><circle cx="1052.49" cy="152.1" r="3.0" fill="#2ca02c"/><circle cx="1083.79" cy="146.5" r="3.0" fill="#2ca02c"/><circle cx="1115.1" cy="153.79" r="3.0" fill="#2ca02c"/><circle cx="1145.48" cy="148.83" r="3.0" fill="#2ca02c"/><path d="M835.21,152.1L864.25,152.54Q866.05,152.57 867.68,152.8L867.68,152.8Q869.32,153.04 870.98,153.73L873.26,154.68Q874.93,155.37 876.33,155.51L876.33,155.51Q877.73,155.65 879.28,156.57L888.33,161.93Q889.88,162.85 891.68,162.92L895.09,163.06Q896.89,163.13 898.38,164.14L900.53,165.58Q902.03,166.59 903.83,166.59L913.31,166.59Q915.11,166.59 916.38,165.32L917.58,164.12Q918.85,162.85 920.49,162.85L920.49,162.85Q922.12,162.85 923.58,163.91L926.74,166.19Q928.2,167.24 929.32,165.83L930.35,164.54Q931.47,163.13 932.64,162.99L932.64,162.99Q933.8,162.85 935.41,163.66L935.93,163.91Q937.54,164.72 939.34,164.72L941.35,164.72Q943.15,164.72 944.81,164.02L945.23,163.83Q946.89,163.13 948.54,163.86L949.91,164.46Q951.56,165.19 953.23,164.5L957.84,162.6Q959.5,161.92 960.67,162.06L960.67,162.06Q961.84,162.2 963.28,161.11L966.95,158.33Q968.38,157.24 969.93,156.32L971.51,155.37Q973.06,154.44 974.59,153.5L982.73,148.55Q984.27,147.62 986.03,148L988.12,148.45Q989.88,148.83 990.34,148.83L990.34,148.83Q990.8,148.83 992.57,149.18L993.71,149.41Q995.48,149.77 996.84,150.94L1000.65,154.2Q1002.02,155.37 1003.82,155.45L1006.76,155.58Q1008.56,155.65 1010.17,156.46L1010.69,156.72Q1012.3,157.52 1014.1,157.56L1019.38,157.67Q1021.18,157.71 1022.66,156.69L1025.77,154.53Q1027.25,153.5 1028.84,152.66L1032.2,150.89Q1033.79,150.05 1035.14,151.24L1038.99,154.65Q1040.34,155.84 1041.88,156.77L1050.94,162.2Q1052.49,163.13 1053.89,164.26L1060.43,169.48Q1061.83,170.61 1063.09,169.32L1069.92,162.27Q1071.18,160.98 1072.87,160.36L1082.11,156.93Q1083.79,156.31 1085.59,156.16L1089.94,155.8Q1091.74,155.65 1093.39,156.38L1094.76,156.99Q1096.41,157.71 1097.74,158.93L1100.69,161.63Q1102.02,162.85 1103.57,161.94L1106.07,160.49Q1107.63,159.58 1109.36,159.1L1113.37,158Q1115.1,157.52 1116.45,156.33L1122.17,151.24Q1123.51,150.05 1125.31,150.05L1127.32,150.05Q1129.12,150.05 1130.77,149.33L1133.08,148.33Q1134.73,147.62 1136.12,148.76L1137.08,149.56Q1138.47,150.7 1140.01,151.63L1141.6,152.58Q1143.14,153.5 1144.41,154.78L1146.41,156.78" fill="none" stroke="#d62728" stroke-width="1.8" stroke-linejoin="round"/><circle cx="835.49" cy="152.1" r="3.0" fill="#d62728"/><circle cx="866.05" cy="152.57" r="3.0" fill="#d62728"/><circle cx="896.89" cy="163.13" r="3.0" fill="#d62728"/><circle cx="928.2" cy="167.24" r="3.0" fill="#d62728"/><circle cx="959.5" cy="161.92" r="3.0" fill="#d62728"/><circle cx="989.88" cy="148.83" r="3.0" fill="#d62728"/><circle cx="1021.18" cy="157.71" r="3.0" fill="#d62728"/><circle cx="1052.49" cy="163.13" r="3.0" fill="#d62728"/><circle cx="1083.79" cy="156.31" r="3.0" fill="#d62728"/><circle cx="1115.1" cy="157.52" r="3.0" fill="#d62728"/><circle cx="1145.48" cy="156.78" r="3.0" fill="#d62728"/></g>
<rect x="835.1" y="5.8" width="310.7" height="185.7" fill="none" stroke="#222" stroke-width="1.1"/>
<path d="M831.1,191.5H835.1M835.1,191.5V195.5M831.1,154.36H835.1M897.24,191.5V195.5M831.1,117.22H835.1M959.38,191.5V195.5M831.1,80.08H835.1M1021.52,191.5V195.5M831.1,42.94H835.1M1083.66,191.5V195.5M831.1,5.8H835.1M1145.8,191.5V195.5" stroke="#222" stroke-width="1.1"/>
<text x="826.6" y="195.4" text-anchor="end" class="t">0</text>
<text x="835.1" y="208.4" text-anchor="middle" class="t">0</text>
<text x="826.6" y="158.26" text-anchor="end" class="t">2</text>
<text x="897.24" y="208.4" text-anchor="middle" class="t">20</text>
<text x="826.6" y="121.12" text-anchor="end" class="t">4</text>
<text x="959.38" y="208.4" text-anchor="middle" class="t">40</text>
<text x="826.6" y="83.98" text-anchor="end" class="t">6</text>
<text x="1021.52" y="208.4" text-anchor="middle" class="t">60</text>
<text x="826.6" y="46.84" text-anchor="end" class="t">8</text>
<text x="1083.66" y="208.4" text-anchor="middle" class="t">80</text>
<text x="826.6" y="9.7" text-anchor="end" class="t">10</text>
<text x="1145.8" y="208.4" text-anchor="middle" class="t">100</text>
<text x="990.45" y="224.3" text-anchor="middle" class="t al">Measurement Cycle</text>
<text transform="translate(805.1,98.65) rotate(-90)" text-anchor="middle" class="t al">Number of Selected Parameters</text>
<rect x="879.95" y="5.4" width="222" height="11.8" rx="1.5" fill="#fff" fill-opacity="0.9" stroke="#ccc" stroke-width="0.9"/>
<path d="M881.65,11H896.05" stroke="#1f77b4" stroke-width="1.6"/>
<text x="901.45" y="13.2" class="lg" textLength="25.8" lengthAdjust="spacingAndGlyphs">Original</text>
<path d="M940.25,11H954.55" stroke="#ff7f0e" stroke-width="1.6"/>
<text x="960.05" y="13.2" class="lg" textLength="34.6" lengthAdjust="spacingAndGlyphs">G.Descent</text>
<path d="M1007.55,11H1022.05" stroke="#2ca02c" stroke-width="1.6"/>
<text x="1026.55" y="13.2" class="lg" textLength="18.2" lengthAdjust="spacingAndGlyphs">CHI-S</text>
<path d="M1058.45,11H1072.85" stroke="#d62728" stroke-width="1.6"/>
<text x="1077.45" y="13.2" class="lg" textLength="20.8" lengthAdjust="spacingAndGlyphs">CcBPS</text>
<text x="994.7" y="275.7" text-anchor="middle" class="cap">(c)</text>
<clipPath id="cpd"><rect x="1232.7" y="6.6" width="310.7" height="185.7"/></clipPath>
<g clip-path="url(#cpd)"><path d="M1233.14,76.68L1258.83,76.68Q1260.63,76.68 1261.82,78.03L1262.71,79.04Q1263.9,80.39 1265.52,79.61L1267.73,78.55Q1269.35,77.77 1270.96,76.95L1277.57,73.58Q1279.17,72.76 1280.97,72.76L1282.82,72.76Q1284.62,72.76 1285.86,71.45L1287.2,70.03Q1288.44,68.72 1290.24,68.82L1292.64,68.95Q1294.44,69.05 1295.79,70.24L1298.54,72.66Q1299.89,73.85 1301.42,74.8L1308.18,79Q1309.71,79.95 1311.51,79.95L1313.91,79.95Q1315.71,79.95 1317.2,80.95L1317.48,81.14Q1318.98,82.14 1320.44,81.09L1324.06,78.49Q1325.52,77.45 1326.74,76.12L1330.3,72.23Q1331.52,70.9 1333.05,71.85L1339.26,75.73Q1340.79,76.68 1341.71,78.23L1345.86,85.17Q1346.79,86.72 1347.89,88.14L1351.14,92.38Q1352.24,93.8 1353.21,95.32L1356.18,99.93Q1357.15,101.44 1358.49,102.64L1361.26,105.14Q1362.6,106.35 1363.77,104.98L1367.97,100.08Q1369.15,98.71 1370.01,97.13L1374.83,88.3Q1375.69,86.72 1376.96,85.44L1377.14,85.26Q1378.42,83.99 1379.89,82.96L1382.4,81.2Q1383.87,80.17 1384.97,78.75L1386.58,76.69Q1387.69,75.26 1387.93,75.26L1387.93,75.26Q1388.18,75.26 1388.93,73.63L1390.16,70.9Q1390.91,69.27 1392.71,69.27L1398.38,69.27Q1400.18,69.27 1401.1,70.81L1405.8,78.63Q1406.72,80.17 1407.99,81.44L1417.45,90.9Q1418.72,92.17 1420.51,92.37L1421.84,92.52Q1423.63,92.71 1424.82,91.36L1430.62,84.79Q1431.81,83.44 1432.48,81.77L1437.68,68.76Q1438.35,67.08 1439.03,65.42L1445.85,48.58Q1446.53,46.91 1447.8,48.18L1449.07,49.45Q1450.35,50.73 1451.89,51.65L1454.26,53.07Q1455.8,54 1456.92,55.4L1463.4,63.5Q1464.53,64.9 1465.7,66.27L1473.17,74.99Q1474.34,76.35 1475.98,76.52L1475.98,76.52Q1477.61,76.68 1479.02,75.56L1480.02,74.75Q1481.43,73.63 1482.86,72.54L1486,70.14Q1487.43,69.05 1489.23,69.05L1494.9,69.05Q1496.7,69.05 1497.84,70.44L1504.28,78.24Q1505.42,79.63 1506.15,81.27L1511.79,94.01Q1512.51,95.66 1513.69,97.02L1516.79,100.62Q1517.97,101.98 1519.46,102.98L1523.01,105.35Q1524.51,106.35 1526.12,105.54L1527.26,104.97Q1528.87,104.17 1529.73,102.58L1535.65,91.57Q1536.51,89.99 1537.18,88.32L1543.6,72.54" fill="none" stroke="#1f77b4" stroke-width="1.8" stroke-linejoin="round"/><circle cx="1233.36" cy="76.9" r="3.0" fill="#1f77b4"/><circle cx="1263.9" cy="80.39" r="3.0" fill="#1f77b4"/><circle cx="1294.44" cy="69.05" r="3.0" fill="#1f77b4"/><circle cx="1325.52" cy="77.45" r="3.0" fill="#1f77b4"/><circle cx="1357.15" cy="101.44" r="3.0" fill="#1f77b4"/><circle cx="1387.69" cy="75.26" r="3.0" fill="#1f77b4"/><circle cx="1418.72" cy="92.17" r="3.0" fill="#1f77b4"/><circle cx="1450.35" cy="50.73" r="3.0" fill="#1f77b4"/><circle cx="1481.43" cy="73.63" r="3.0" fill="#1f77b4"/><circle cx="1512.51" cy="95.66" r="3.0" fill="#1f77b4"/><circle cx="1542.51" cy="73.41" r="3.0" fill="#1f77b4"/><path d="M1233.21,147.24L1258.04,147.24Q1259.84,147.24 1261.43,148.09L1262.46,148.64Q1264.05,149.49 1265.7,148.77L1267.54,147.96Q1269.19,147.24 1270.99,147.24L1282.34,147.24Q1284.14,147.24 1285.78,146.49L1287.18,145.85Q1288.81,145.09 1290.61,145.24L1292.63,145.41Q1294.42,145.56 1296,146.42L1299.38,148.25Q1300.96,149.11 1302.76,149.11L1316.92,149.11Q1318.72,149.11 1320.28,148.21L1320.9,147.86Q1322.46,146.96 1324.09,146.36L1324.09,146.36Q1325.73,145.75 1327.18,144.68L1329.88,142.7Q1331.34,141.64 1332.88,142.56L1338.67,146.04Q1340.21,146.96 1341.45,148.27L1346.46,153.6Q1347.69,154.91 1349.25,155.81L1355.48,159.42Q1357.04,160.33 1358.57,161.27L1361.11,162.84Q1362.64,163.79 1364.16,162.81L1367.67,160.55Q1369.19,159.58 1370.37,158.22L1374.54,153.46Q1375.73,152.1 1377.37,151.36L1377.83,151.16Q1379.47,150.42 1381.26,150.28L1386.08,149.91Q1387.88,149.77 1387.87,149.63L1387.87,149.63Q1387.87,149.49 1389.41,148.56L1390.06,148.17Q1391.61,147.24 1393.41,147.24L1397.75,147.24Q1399.55,147.24 1400.84,148.5L1403.41,151.03Q1404.69,152.29 1406.27,153.16L1417.14,159.18Q1418.71,160.05 1420.51,160.05L1421.58,160.05Q1423.38,160.05 1424.82,158.97L1429.42,155.52Q1430.86,154.44 1432.06,153.09L1437.14,147.37Q1438.34,146.03 1439.51,144.66L1445.58,137.58Q1446.75,136.21 1448.43,136.85L1448.8,136.98Q1450.49,137.62 1451.99,138.61L1453.66,139.71Q1455.16,140.7 1456.73,141.57L1465.73,146.56Q1467.31,147.43 1468.84,148.37L1474.18,151.63Q1475.72,152.57 1477.43,152L1479.62,151.27Q1481.33,150.7 1482.86,149.76L1485.4,148.19Q1486.93,147.24 1488.73,147.24L1494.48,147.24Q1496.28,147.24 1497.84,148.14L1503.13,151.2Q1504.69,152.1 1506,153.34L1511.79,158.81Q1513.1,160.05 1514.57,161.1L1517.25,163.02Q1518.71,164.07 1520.51,164.07L1522.52,164.07Q1524.32,164.07 1525.53,162.73L1530.58,157.17Q1531.79,155.84 1532.99,154.5L1543.01,143.22" fill="none" stroke="#ff7f0e" stroke-width="1.8" stroke-linejoin="round"/><circle cx="1233.49" cy="147.24" r="3.0" fill="#ff7f0e"/><circle cx="1264.05" cy="149.49" r="3.0" fill="#ff7f0e"/><circle cx="1294.42" cy="145.56" r="3.0" fill="#ff7f0e"/><circle cx="1325.73" cy="145.75" r="3.0" fill="#ff7f0e"/><circle cx="1357.04" cy="160.33" r="3.0" fill="#ff7f0e"/><circle cx="1387.88" cy="149.77" r="3.0" fill="#ff7f0e"/><circle cx="1418.71" cy="160.05" r="3.0" fill="#ff7f0e"/><circle cx="1450.49" cy="137.62" r="3.0" fill="#ff7f0e"/><circle cx="1481.33" cy="150.7" r="3.0" fill="#ff7f0e"/><circle cx="1513.1" cy="160.05" r="3.0" fill="#ff7f0e"/><circle cx="1542.07" cy="144.16" r="3.0" fill="#ff7f0e"/><path d="M1233.21,158.18L1258.04,158.18Q1259.84,158.18 1261.44,159L1262.44,159.51Q1264.05,160.33 1265.68,160.89L1265.68,160.89Q1267.32,161.45 1268.86,160.52L1276.99,155.65Q1278.53,154.72 1280.33,154.72L1282.34,154.72Q1284.14,154.72 1285.74,153.89L1287.22,153.12Q1288.81,152.29 1290.6,152.47L1292.63,152.67Q1294.42,152.85 1296.11,153.47L1298.34,154.29Q1300.03,154.91 1301.64,155.71L1308.7,159.24Q1310.31,160.05 1312.11,160.14L1314.12,160.24Q1315.92,160.33 1317.56,161.05L1318.94,161.66Q1320.59,162.38 1322.23,161.64L1324.09,160.79Q1325.73,160.05 1327.41,159.4L1330.12,158.36Q1331.8,157.71 1333.6,157.71L1339.35,157.71Q1341.15,157.71 1342.56,158.83L1344.42,160.32Q1345.82,161.45 1347.37,162.37L1348.95,163.33Q1350.5,164.25 1351.96,165.3L1355.57,167.88Q1357.04,168.93 1358.48,170.01L1359.34,170.65Q1360.78,171.73 1362.18,171.26L1362.18,171.26Q1363.58,170.79 1365.11,169.84L1369.53,167.08Q1371.06,166.12 1372.57,165.15L1386.36,156.34Q1387.88,155.37 1387.87,155.14L1387.87,155.14Q1387.87,154.91 1388.87,153.41L1389.67,152.2Q1390.67,150.7 1392.47,150.7L1397.75,150.7Q1399.55,150.7 1401.19,151.45L1403.05,152.29Q1404.69,153.04 1406.29,153.87L1417.11,159.5Q1418.71,160.33 1420.4,160.95L1422.63,161.76Q1424.32,162.38 1425.88,161.49L1429.3,159.54Q1430.86,158.64 1432.06,157.3L1437.14,151.58Q1438.34,150.23 1439.61,148.96L1447.34,141.23Q1448.62,139.95 1449.55,141.12L1449.55,141.12Q1450.49,142.29 1452.26,141.99L1454.32,141.65Q1456.09,141.36 1457.65,142.26L1465.75,146.99Q1467.31,147.9 1468.86,148.81L1474.17,151.94Q1475.72,152.85 1477.48,152.47L1479.57,152.02Q1481.33,151.64 1483.07,151.2L1483.32,151.14Q1485.07,150.7 1486.87,150.7L1494.48,150.7Q1496.28,150.7 1497.82,151.64L1503.16,154.9Q1504.69,155.84 1506,157.08L1511.79,162.55Q1513.1,163.79 1514.64,164.73L1523.72,170.32Q1525.25,171.26 1526.84,170.41L1537.68,164.63Q1539.27,163.79 1540.37,162.36L1543.94,157.71" fill="none" stroke="#2ca02c" stroke-width="1.8" stroke-linejoin="round"/><circle cx="1233.49" cy="158.46" r="3.0" fill="#2ca02c"/><circle cx="1264.05" cy="160.33" r="3.0" fill="#2ca02c"/><circle cx="1294.42" cy="152.85" r="3.0" fill="#2ca02c"/><circle cx="1325.73" cy="160.05" r="3.0" fill="#2ca02c"/><circle cx="1357.04" cy="168.93" r="3.0" fill="#2ca02c"/><circle cx="1387.88" cy="155.37" r="3.0" fill="#2ca02c"/><circle cx="1418.71" cy="160.05" r="3.0" fill="#2ca02c"/><circle cx="1450.49" cy="142.29" r="3.0" fill="#2ca02c"/><circle cx="1481.33" cy="151.64" r="3.0" fill="#2ca02c"/><circle cx="1513.1" cy="163.79" r="3.0" fill="#2ca02c"/><circle cx="1543.01" cy="158.18" r="3.0" fill="#2ca02c"/><path d="M1233.21,165.93L1258.04,165.93Q1259.84,165.93 1261.16,167.16L1262.73,168.63Q1264.05,169.86 1265.15,168.44L1266.21,167.08Q1267.32,165.65 1269.12,165.65L1292.62,165.65Q1294.42,165.65 1295.65,166.97L1296.93,168.35Q1298.16,169.67 1299.96,169.67L1308.51,169.67Q1310.31,169.67 1311.92,170.48L1316.18,172.61Q1317.79,173.41 1319.07,172.15L1324.44,166.91Q1325.73,165.65 1327.29,164.76L1330.24,163.09Q1331.8,162.2 1333.6,162.2L1348.7,162.2Q1350.5,162.2 1351.66,163.57L1355.87,168.49Q1357.04,169.86 1358.78,170.3L1360.9,170.83Q1362.64,171.26 1364.44,171.26L1379.54,171.26Q1381.34,171.26 1383.09,170.84L1386.13,170.1Q1387.88,169.67 1387.87,169.77L1387.87,169.77Q1387.87,169.86 1389.07,168.51L1390.41,167Q1391.61,165.65 1393.29,165.01L1395.53,164.15Q1397.21,163.5 1399.01,163.5L1410.37,163.5Q1412.17,163.5 1413.88,164.07L1417,165.09Q1418.71,165.65 1420.42,166.22L1423.54,167.24Q1425.25,167.8 1426.81,166.91L1427.43,166.55Q1428.99,165.65 1430.79,165.65L1438.41,165.65Q1440.21,165.65 1441.48,164.38L1442.67,163.19Q1443.94,161.92 1445.73,162.17L1448.7,162.6Q1450.49,162.85 1452.26,162.55L1454.32,162.21Q1456.09,161.92 1457.37,163.19L1458.56,164.38Q1459.83,165.65 1461.38,164.74L1465.76,162.17Q1467.31,161.26 1468.76,160.2L1470.06,159.24Q1471.51,158.18 1472.79,159.45L1474.45,161.11Q1475.72,162.38 1477.16,161.3L1479.89,159.26Q1481.33,158.18 1483.01,157.55L1483.38,157.41Q1485.07,156.78 1486.81,157.21L1488.93,157.74Q1490.67,158.18 1492.17,159.18L1500.39,164.66Q1501.89,165.65 1503.69,165.65L1505.7,165.65Q1507.5,165.65 1508.94,166.73L1511.66,168.78Q1513.1,169.86 1514.27,171.23L1514.74,171.76Q1515.91,173.13 1517.71,173.13L1523.45,173.13Q1525.25,173.13 1526.77,172.16L1530.28,169.9Q1531.79,168.93 1533.35,168.02L1535.85,166.56Q1537.4,165.65 1539.06,164.95L1543.94,162.85" fill="none" stroke="#d62728" stroke-width="1.8" stroke-linejoin="round"/><circle cx="1233.49" cy="165.93" r="3.0" fill="#d62728"/><circle cx="1264.05" cy="169.86" r="3.0" fill="#d62728"/><circle cx="1294.42" cy="165.65" r="3.0" fill="#d62728"/><circle cx="1325.73" cy="165.65" r="3.0" fill="#d62728"/><circle cx="1357.04" cy="169.86" r="3.0" fill="#d62728"/><circle cx="1387.88" cy="169.67" r="3.0" fill="#d62728"/><circle cx="1418.71" cy="165.65" r="3.0" fill="#d62728"/><circle cx="1450.49" cy="162.85" r="3.0" fill="#d62728"/><circle cx="1481.33" cy="158.18" r="3.0" fill="#d62728"/><circle cx="1513.1" cy="169.86" r="3.0" fill="#d62728"/><circle cx="1543.01" cy="163.32" r="3.0" fill="#d62728"/></g>
<rect x="1232.7" y="6.6" width="310.7" height="185.7" fill="none" stroke="#222" stroke-width="1.1"/>
<path d="M1228.7,192.3H1232.7M1232.7,192.3V196.3M1228.7,155.16H1232.7M1294.84,192.3V196.3M1228.7,118.02H1232.7M1356.98,192.3V196.3M1228.7,80.88H1232.7M1419.12,192.3V196.3M1228.7,43.74H1232.7M1481.26,192.3V196.3M1228.7,6.6H1232.7M1543.4,192.3V196.3" stroke="#222" stroke-width="1.1"/>
<text x="1224.2" y="196.2" text-anchor="end" class="t">0</text>
<text x="1232.7" y="209.2" text-anchor="middle" class="t">0</text>
<text x="1224.2" y="159.06" text-anchor="end" class="t">2</text>
<text x="1294.84" y="209.2" text-anchor="middle" class="t">20</text>
<text x="1224.2" y="121.92" text-anchor="end" class="t">4</text>
<text x="1356.98" y="209.2" text-anchor="middle" class="t">40</text>
<text x="1224.2" y="84.78" text-anchor="end" class="t">6</text>
<text x="1419.12" y="209.2" text-anchor="middle" class="t">60</text>
<text x="1224.2" y="47.64" text-anchor="end" class="t">8</text>
<text x="1481.26" y="209.2" text-anchor="middle" class="t">80</text>
<text x="1224.2" y="10.5" text-anchor="end" class="t">10</text>
<text x="1543.4" y="209.2" text-anchor="middle" class="t">100</text>
<text x="1388.05" y="225.1" text-anchor="middle" class="t al">Measurement Cycle</text>
<text transform="translate(1202.7,99.45) rotate(-90)" text-anchor="middle" class="t al">Number of Selected Parameters</text>
<rect x="1277.55" y="6.2" width="222" height="11.8" rx="1.5" fill="#fff" fill-opacity="0.9" stroke="#ccc" stroke-width="0.9"/>
<path d="M1279.25,11.8H1293.65" stroke="#1f77b4" stroke-width="1.6"/>
<text x="1299.05" y="14" class="lg" textLength="25.8" lengthAdjust="spacingAndGlyphs">Original</text>
<path d="M1337.85,11.8H1352.15" stroke="#ff7f0e" stroke-width="1.6"/>
<text x="1357.65" y="14" class="lg" textLength="34.6" lengthAdjust="spacingAndGlyphs">G.Descent</text>
<path d="M1405.15,11.8H1419.65" stroke="#2ca02c" stroke-width="1.6"/>
<text x="1424.15" y="14" class="lg" textLength="18.2" lengthAdjust="spacingAndGlyphs">CHI-S</text>
<path d="M1456.05,11.8H1470.45" stroke="#d62728" stroke-width="1.6"/>
<text x="1475.05" y="14" class="lg" textLength="20.8" lengthAdjust="spacingAndGlyphs">CcBPS</text>
<text x="1400" y="275.5" text-anchor="middle" class="cap">(d)</text>
<clipPath id="cpe"><rect x="1637" y="5.8" width="310.7" height="185.7"/></clipPath>
<g clip-path="url(#cpe)"><path d="M1637.74,68.36L1663.98,68.36Q1665.78,68.36 1667.18,68.36L1667.18,68.36Q1668.58,68.36 1669.98,69.2L1669.98,69.2Q1671.38,70.04 1672.43,71.5L1673.14,72.5Q1674.19,73.96 1675.99,73.96L1684.54,73.96Q1686.34,73.96 1687.3,75.48L1689.11,78.33Q1690.07,79.85 1691.4,81.07L1694.36,83.77Q1695.68,84.99 1697.25,85.88L1697.39,85.97Q1698.95,86.86 1700.17,88.18L1701,89.09Q1702.22,90.41 1703.79,89.52L1707.2,87.57Q1708.77,86.67 1709.94,85.31L1712.26,82.62Q1713.44,81.25 1714.35,79.7L1717.2,74.86Q1718.11,73.31 1719.21,71.88L1721.69,68.66Q1722.79,67.23 1723.68,65.67L1725.63,62.25Q1726.52,60.69 1727.72,62.04L1729.07,63.55Q1730.26,64.9 1732.06,64.75L1734.08,64.58Q1735.87,64.43 1737.45,63.56L1738.03,63.24Q1739.61,62.37 1741.01,62.37L1741.01,62.37Q1742.41,62.37 1743.18,64L1747.25,72.62Q1748.02,74.24 1748.87,75.83L1753.71,84.81Q1754.56,86.39 1755.45,87.96L1757.41,91.37Q1758.3,92.93 1759.86,93.83L1760.01,93.91Q1761.57,94.8 1763.36,94.6L1763.99,94.54Q1765.78,94.34 1767.39,93.53L1771.64,91.4Q1773.25,90.6 1774.39,89.21L1780.52,81.71Q1781.66,80.32 1782.39,78.67L1786.54,69.35Q1787.27,67.7 1788.89,66.91L1790.8,65.97Q1792.41,65.18 1792.73,65.18L1792.73,65.18Q1793.06,65.18 1794.57,66.15L1796.96,67.67Q1798.48,68.64 1799.37,70.2L1803.65,77.64Q1804.55,79.2 1806.35,79.2L1815.37,79.2Q1817.17,79.2 1818.01,80.78L1822.4,89.01Q1823.24,90.6 1824.78,91.54L1830.59,95.08Q1832.12,96.02 1833.49,94.85L1837.3,91.58Q1838.66,90.41 1840.46,90.41L1843.41,90.41Q1845.21,90.41 1846.44,91.72L1847.24,92.56Q1848.48,93.87 1850.08,93.05L1852.95,91.6Q1854.55,90.79 1856.05,89.78L1859.6,87.4Q1861.09,86.39 1861.76,84.72L1863.23,81.05Q1863.9,79.38 1865.51,80.19L1870.7,82.78Q1872.31,83.59 1873.64,82.38L1876.12,80.13Q1877.45,78.92 1878.79,77.72L1880.31,76.37Q1881.65,75.18 1882.63,73.66L1884.89,70.15Q1885.86,68.64 1886.72,67.05L1891.08,59Q1891.93,57.42 1893.34,57.19L1893.34,57.19Q1894.74,56.95 1896.04,55.71L1897.17,54.64Q1898.48,53.4 1900.28,53.4L1902.28,53.4Q1904.08,53.4 1905.31,54.72L1906.6,56.1Q1907.82,57.42 1909.21,56.27L1909.24,56.24Q1910.63,55.08 1911.61,56.59L1916.19,63.67Q1917.17,65.18 1918.02,66.76L1921.93,74.06Q1922.78,75.64 1924.32,76.57L1927.77,78.64Q1929.32,79.57 1930.71,78.43L1937.27,73.05Q1938.66,71.91 1940.05,73.06L1940.08,73.09Q1941.47,74.24 1942.57,72.82L1948.01,65.83" fill="none" stroke="#1f77b4" stroke-width="1.8" stroke-linejoin="round"/><circle cx="1637.93" cy="68.36" r="3.0" fill="#1f77b4"/><circle cx="1668.58" cy="68.36" r="3.0" fill="#1f77b4"/><circle cx="1698.95" cy="86.86" r="3.0" fill="#1f77b4"/><circle cx="1730.26" cy="65.36" r="3.0" fill="#1f77b4"/><circle cx="1761.57" cy="94.8" r="3.0" fill="#1f77b4"/><circle cx="1792.41" cy="65.18" r="3.0" fill="#1f77b4"/><circle cx="1823.24" cy="90.6" r="3.0" fill="#1f77b4"/><circle cx="1854.55" cy="90.79" r="3.0" fill="#1f77b4"/><circle cx="1885.86" cy="68.64" r="3.0" fill="#1f77b4"/><circle cx="1917.17" cy="65.18" r="3.0" fill="#1f77b4"/><circle cx="1947.07" cy="66.77" r="3.0" fill="#1f77b4"/><path d="M1637.93,142.57L1663.98,142.57Q1665.78,142.57 1667.18,142.9L1667.18,142.9Q1668.58,143.22 1670.34,143.61L1672.43,144.06Q1674.19,144.44 1675.99,144.44L1684.54,144.44Q1686.34,144.44 1687.9,145.34L1693.19,148.4Q1694.75,149.3 1696.49,149.76L1697.21,149.96Q1698.95,150.42 1700.62,151.09L1701.49,151.43Q1703.16,152.1 1704.96,152.1L1706.03,152.1Q1707.83,152.1 1709.37,151.17L1724.99,141.64Q1726.52,140.7 1728.02,141.71L1728.77,142.22Q1730.26,143.22 1732.06,143.07L1734.08,142.91Q1735.87,142.76 1737.31,141.68L1738.17,141.03Q1739.61,139.95 1741.01,140.05L1741.01,140.05Q1742.41,140.14 1743.52,141.56L1748.78,148.34Q1749.89,149.77 1751.09,151.1L1757.09,157.77Q1758.3,159.11 1759.93,158.88L1759.93,158.88Q1761.57,158.64 1763.34,158.97L1764.94,159.26Q1766.71,159.58 1768.51,159.58L1768.65,159.58Q1770.45,159.58 1772.01,158.69L1775.43,156.73Q1776.99,155.84 1778.45,154.78L1785.82,149.42Q1787.27,148.36 1788.7,147.27L1790.98,145.53Q1792.41,144.44 1792.73,144.44L1792.73,144.44Q1793.06,144.44 1794.86,144.5L1796.68,144.56Q1798.48,144.63 1800.09,145.42L1802.94,146.82Q1804.55,147.62 1806.35,147.62L1815.37,147.62Q1817.17,147.62 1818.22,149.08L1822.19,154.57Q1823.24,156.03 1824.88,156.78L1824.88,156.78Q1826.51,157.52 1828.05,158.47L1830.59,160.04Q1832.12,160.98 1833.68,160.09L1837.1,158.14Q1838.66,157.24 1840.46,157.24L1843.41,157.24Q1845.21,157.24 1846.61,158.18L1846.61,158.18Q1848.01,159.11 1849.62,158.31L1852.94,156.65Q1854.55,155.84 1855.89,154.64L1862.09,149.1Q1863.43,147.9 1865.02,148.74L1869.78,151.26Q1871.37,152.1 1872.93,151.2L1879.16,147.59Q1880.72,146.68 1882.39,146.01L1884.19,145.29Q1885.86,144.63 1887.34,143.6L1890.45,141.45Q1891.93,140.42 1893.67,139.93L1896.75,139.05Q1898.48,138.55 1900.27,138.64L1902.29,138.74Q1904.08,138.83 1905.79,139.41L1907.05,139.84Q1908.76,140.42 1910.16,141.03L1910.16,141.03Q1911.56,141.64 1913.15,142.48L1915.58,143.78Q1917.17,144.63 1918.64,145.66L1920.37,146.86Q1921.84,147.9 1923.64,147.9L1927.52,147.9Q1929.32,147.9 1930.85,146.96L1936.19,143.7Q1937.73,142.76 1939.52,142.53L1939.68,142.51Q1941.47,142.29 1943,141.35L1947.54,138.55" fill="none" stroke="#ff7f0e" stroke-width="1.8" stroke-linejoin="round"/><circle cx="1637.93" cy="142.94" r="3.0" fill="#ff7f0e"/><circle cx="1668.58" cy="143.22" r="3.0" fill="#ff7f0e"/><circle cx="1698.95" cy="150.42" r="3.0" fill="#ff7f0e"/><circle cx="1730.26" cy="143.22" r="3.0" fill="#ff7f0e"/><circle cx="1761.57" cy="158.64" r="3.0" fill="#ff7f0e"/><circle cx="1792.41" cy="144.44" r="3.0" fill="#ff7f0e"/><circle cx="1823.24" cy="156.03" r="3.0" fill="#ff7f0e"/><circle cx="1854.55" cy="155.84" r="3.0" fill="#ff7f0e"/><circle cx="1885.86" cy="144.63" r="3.0" fill="#ff7f0e"/><circle cx="1917.17" cy="144.63" r="3.0" fill="#ff7f0e"/><circle cx="1946.61" cy="139.02" r="3.0" fill="#ff7f0e"/><path d="M1637.93,153.97L1663.98,153.97Q1665.78,153.97 1667.18,154.21L1667.18,154.21Q1668.58,154.44 1670.16,155.31L1672.61,156.66Q1674.19,157.52 1675.99,157.52L1684.54,157.52Q1686.34,157.52 1687.66,158.75L1688.75,159.76Q1690.07,160.98 1691.57,161.98L1695.12,164.37Q1696.62,165.37 1697.79,165.19L1697.79,165.19Q1698.95,165 1700.74,164.78L1703.24,164.47Q1705.03,164.25 1706.64,163.45L1709.96,161.79Q1711.57,160.98 1712.89,159.76L1716.79,156.13Q1718.11,154.91 1719.72,154.1L1722.11,152.91Q1723.72,152.1 1724.96,150.8L1726.22,149.48Q1727.46,148.18 1728.8,149.38L1728.92,149.5Q1730.26,150.7 1732.06,150.6L1739.68,150.15Q1741.48,150.05 1742.9,151.15L1747.53,154.74Q1748.95,155.84 1750.47,156.82L1755.85,160.29Q1757.36,161.26 1759.05,161.9L1759.89,162.21Q1761.57,162.85 1763.37,162.85L1764.91,162.85Q1766.71,162.85 1768.24,161.9L1772.66,159.13Q1774.19,158.18 1775.76,157.3L1780.09,154.85Q1781.66,153.97 1782.99,152.76L1785.94,150.05Q1787.27,148.83 1789.07,148.83L1790.61,148.83Q1792.41,148.83 1792.73,148.83L1792.73,148.83Q1793.06,148.83 1794.48,149.94L1797.05,151.93Q1798.48,153.04 1799.77,154.29L1803.73,158.14Q1805.02,159.39 1806.82,159.39L1814.43,159.39Q1816.23,159.39 1817.93,160L1821.55,161.31Q1823.24,161.92 1825,162.31L1825.69,162.46Q1827.45,162.85 1829.25,162.85L1831.26,162.85Q1833.06,162.85 1834.67,162.05L1836.12,161.32Q1837.73,160.51 1839.53,160.51L1841.54,160.51Q1843.34,160.51 1845,161.21L1847.28,162.16Q1848.94,162.85 1850.74,162.7L1852.76,162.53Q1854.55,162.38 1856.32,162.74L1857.46,162.96Q1859.22,163.32 1860.58,162.13L1861.61,161.23Q1862.96,160.05 1864.76,159.88L1871.45,159.28Q1873.24,159.11 1874.85,158.31L1875.37,158.05Q1876.98,157.24 1878.77,157.02L1878.93,157Q1880.72,156.78 1882.05,155.56L1884.53,153.31Q1885.86,152.1 1887.04,150.74L1890.76,146.45Q1891.93,145.09 1893.68,144.66L1893.93,144.6Q1895.67,144.16 1897.33,143.45L1897.75,143.27Q1899.41,142.57 1901.21,142.57L1902.28,142.57Q1904.08,142.57 1905.69,143.38L1906.21,143.63Q1907.82,144.44 1909.22,143.5L1909.22,143.5Q1910.63,142.57 1911.93,143.81L1915.87,147.59Q1917.17,148.83 1918.29,150.24L1921.65,154.44Q1922.78,155.84 1924.39,156.65L1928.64,158.77Q1930.25,159.58 1932.01,159.19L1936.91,158.1Q1938.66,157.71 1940.07,158.41L1940.07,158.41Q1941.47,159.11 1943,158.17L1947.54,155.37" fill="none" stroke="#2ca02c" stroke-width="1.8" stroke-linejoin="round"/><circle cx="1637.93" cy="154.16" r="3.0" fill="#2ca02c"/><circle cx="1668.58" cy="154.44" r="3.0" fill="#2ca02c"/><circle cx="1698.95" cy="165" r="3.0" fill="#2ca02c"/><circle cx="1730.26" cy="150.7" r="3.0" fill="#2ca02c"/><circle cx="1761.57" cy="162.85" r="3.0" fill="#2ca02c"/><circle cx="1792.41" cy="148.83" r="3.0" fill="#2ca02c"/><circle cx="1823.24" cy="161.92" r="3.0" fill="#2ca02c"/><circle cx="1854.55" cy="162.38" r="3.0" fill="#2ca02c"/><circle cx="1885.86" cy="152.1" r="3.0" fill="#2ca02c"/><circle cx="1917.17" cy="148.83" r="3.0" fill="#2ca02c"/><circle cx="1946.61" cy="155.84" r="3.0" fill="#2ca02c"/><path d="M1637.93,165L1663.04,165Q1664.84,165 1666.11,166.27L1667.31,167.47Q1668.58,168.74 1669.66,167.3L1670.3,166.44Q1671.38,165 1673.18,165L1687.34,165Q1689.14,165 1690.55,166.12L1692.41,167.61Q1693.81,168.74 1694.98,168.6L1694.98,168.6Q1696.15,168.46 1697.28,167.06L1697.82,166.4Q1698.95,165 1700.73,165.28L1701.38,165.38Q1703.16,165.65 1704.95,165.5L1708.84,165.16Q1710.64,165 1712.09,163.94L1716.65,160.64Q1718.11,159.58 1719.91,159.58L1725.66,159.58Q1727.46,159.58 1728.84,160.73L1728.88,160.76Q1730.26,161.92 1732.04,162.21L1734.09,162.55Q1735.87,162.85 1737.67,162.85L1737.81,162.85Q1739.61,162.85 1740.88,161.58L1741.61,160.85Q1742.88,159.58 1744.22,160.78L1747.61,163.8Q1748.95,165 1750.75,165L1756.5,165Q1758.3,165 1759.72,166.1L1760.14,166.42Q1761.57,167.52 1763.32,167.94L1764.96,168.32Q1766.71,168.74 1768.51,168.74L1780.8,168.74Q1782.6,168.74 1783.96,167.56L1785.91,165.89Q1787.27,164.72 1788.85,163.86L1790.83,162.78Q1792.41,161.92 1792.73,161.92L1792.73,161.92Q1793.06,161.92 1794.85,161.85L1798.55,161.7Q1800.35,161.64 1801.87,162.6L1804.43,164.22Q1805.95,165.19 1807.56,164.38L1812.75,161.79Q1814.36,160.98 1816.16,160.98L1817.24,160.98Q1819.04,160.98 1820.31,162.25L1821.97,163.91Q1823.24,165.19 1825.04,165.12L1826.58,165.07Q1828.38,165 1830.18,165L1833.13,165Q1834.93,165 1836.29,163.83L1838.23,162.15Q1839.6,160.98 1841.4,160.98L1841.54,160.98Q1843.34,160.98 1844.83,161.98L1847.45,163.72Q1848.94,164.72 1850.74,164.87L1852.76,165.04Q1854.55,165.19 1856.35,165.04L1858.37,164.87Q1860.16,164.72 1861.56,163.6L1863.43,162.11Q1864.83,160.98 1866.33,161.98L1871.75,165.59Q1873.24,166.59 1874.38,165.19L1874.91,164.53Q1876.05,163.13 1877.45,163.69L1877.45,163.69Q1878.85,164.25 1880.12,162.98L1884.59,158.52Q1885.86,157.24 1887.66,157.34L1889.2,157.43Q1891,157.52 1892.38,158.68L1894.29,160.29Q1895.67,161.45 1897.47,161.45L1898.55,161.45Q1900.35,161.45 1901.96,160.64L1902.47,160.38Q1904.08,159.58 1905.3,160.9L1906.14,161.81Q1907.36,163.13 1908.61,161.84L1909.37,161.06Q1910.63,159.77 1911.83,161.11L1915.97,165.72Q1917.17,167.06 1918.97,166.98L1920.04,166.94Q1921.84,166.87 1923.38,165.94L1927.77,163.31Q1929.32,162.38 1930.79,161.35L1931.58,160.8Q1933.06,159.77 1934.75,160.38L1936.04,160.84Q1937.73,161.45 1939.37,162.19L1939.83,162.39Q1941.47,163.13 1943.07,162.32L1947.54,160.05" fill="none" stroke="#d62728" stroke-width="1.8" stroke-linejoin="round"/><circle cx="1637.93" cy="165" r="3.0" fill="#d62728"/><circle cx="1668.58" cy="168.93" r="3.0" fill="#d62728"/><circle cx="1698.95" cy="164.72" r="3.0" fill="#d62728"/><circle cx="1730.26" cy="161.92" r="3.0" fill="#d62728"/><circle cx="1761.57" cy="167.52" r="3.0" fill="#d62728"/><circle cx="1792.41" cy="161.92" r="3.0" fill="#d62728"/><circle cx="1823.24" cy="165.19" r="3.0" fill="#d62728"/><circle cx="1854.55" cy="165.19" r="3.0" fill="#d62728"/><circle cx="1885.86" cy="157.24" r="3.0" fill="#d62728"/><circle cx="1917.17" cy="167.06" r="3.0" fill="#d62728"/><circle cx="1946.61" cy="161.45" r="3.0" fill="#d62728"/></g>
<rect x="1637" y="5.8" width="310.7" height="185.7" fill="none" stroke="#222" stroke-width="1.1"/>
<path d="M1633,191.5H1637M1637,191.5V195.5M1633,154.36H1637M1699.14,191.5V195.5M1633,117.22H1637M1761.28,191.5V195.5M1633,80.08H1637M1823.42,191.5V195.5M1633,42.94H1637M1885.56,191.5V195.5M1633,5.8H1637M1947.7,191.5V195.5" stroke="#222" stroke-width="1.1"/>
<text x="1628.5" y="195.4" text-anchor="end" class="t">0</text>
<text x="1637" y="208.4" text-anchor="middle" class="t">0</text>
<text x="1628.5" y="158.26" text-anchor="end" class="t">2</text>
<text x="1699.14" y="208.4" text-anchor="middle" class="t">20</text>
<text x="1628.5" y="121.12" text-anchor="end" class="t">4</text>
<text x="1761.28" y="208.4" text-anchor="middle" class="t">40</text>
<text x="1628.5" y="83.98" text-anchor="end" class="t">6</text>
<text x="1823.42" y="208.4" text-anchor="middle" class="t">60</text>
<text x="1628.5" y="46.84" text-anchor="end" class="t">8</text>
<text x="1885.56" y="208.4" text-anchor="middle" class="t">80</text>
<text x="1628.5" y="9.7" text-anchor="end" class="t">10</text>
<text x="1947.7" y="208.4" text-anchor="middle" class="t">100</text>
<text x="1792.35" y="224.3" text-anchor="middle" class="t al">Measurement Cycle</text>
<text transform="translate(1607,98.65) rotate(-90)" text-anchor="middle" class="t al">Number of Selected Parameters</text>
<rect x="1681.85" y="5.4" width="222" height="11.8" rx="1.5" fill="#fff" fill-opacity="0.9" stroke="#ccc" stroke-width="0.9"/>
<path d="M1683.55,11H1697.95" stroke="#1f77b4" stroke-width="1.6"/>
<text x="1703.35" y="13.2" class="lg" textLength="25.8" lengthAdjust="spacingAndGlyphs">Original</text>
<path d="M1742.15,11H1756.45" stroke="#ff7f0e" stroke-width="1.6"/>
<text x="1761.95" y="13.2" class="lg" textLength="34.6" lengthAdjust="spacingAndGlyphs">G.Descent</text>
<path d="M1809.45,11H1823.95" stroke="#2ca02c" stroke-width="1.6"/>
<text x="1828.45" y="13.2" class="lg" textLength="18.2" lengthAdjust="spacingAndGlyphs">CHI-S</text>
<path d="M1860.35,11H1874.75" stroke="#d62728" stroke-width="1.6"/>
<text x="1879.35" y="13.2" class="lg" textLength="20.8" lengthAdjust="spacingAndGlyphs">CcBPS</text>
<text x="1803.7" y="275.7" text-anchor="middle" class="cap">(e)</text>
<clipPath id="cpf"><rect x="235.1" y="355.6" width="310.7" height="185.7"/></clipPath>
<g clip-path="url(#cpf)"><path d="M235.74,406.73L261.04,406.73Q262.84,406.73 264.54,406.13L264.88,406.02Q266.58,405.42 268.21,405.28L268.21,405.28Q269.85,405.14 270.71,406.72L275.07,414.77Q275.93,416.36 276.69,417.98L278.9,422.67Q279.66,424.3 280.62,425.83L283.38,430.25Q284.34,431.78 285.46,433.18L286.95,435.04Q288.07,436.45 289.57,437.45L292.18,439.19Q293.68,440.19 294.74,441.64L295.89,443.22Q296.95,444.67 298.19,445.98L298.99,446.82Q300.22,448.13 301.12,446.57L304.94,439.88Q305.83,438.32 306.64,436.71L310.63,428.71Q311.44,427.1 312.65,425.77L314.9,423.29Q316.11,421.96 317.91,421.96L319.92,421.96Q321.72,421.96 322.92,423.31L324.26,424.82Q325.46,426.17 326.57,427.58L327.15,428.31Q328.26,429.72 329.34,431.16L331.86,434.54Q332.93,435.98 333.96,437.46L336.12,440.58Q337.14,442.06 338.78,442.29L338.78,442.29Q340.41,442.52 342.05,443.22L342.05,443.22Q343.68,443.93 345.2,442.96L351.04,439.28Q352.56,438.32 353.5,436.78L355.36,433.78Q356.3,432.24 357.17,430.67L358.7,427.93Q359.57,426.36 360.21,424.67L362.2,419.44Q362.84,417.76 363.49,416.08L367.8,404.95Q368.45,403.27 369.32,404.85L375.06,415.25Q375.93,416.82 376.81,418.39L382.98,429.28Q383.87,430.84 385.5,431.07L385.5,431.07Q387.14,431.31 388.67,432.26L389.35,432.69Q390.88,433.64 390.97,433.55L390.97,433.55Q391.06,433.46 392.36,434.25L392.36,434.25Q393.67,435.05 394.73,436.51L398.69,442Q399.75,443.46 401.33,442.6L404.24,441.04Q405.82,440.19 406.97,438.8L414.02,430.35Q415.17,428.97 416.65,430L419.76,432.15Q421.24,433.18 422.48,434.49L423.28,435.33Q424.51,436.64 425.49,435.12L427.28,432.35Q428.25,430.84 429.33,429.4L435.58,421.07Q436.66,419.63 438.27,418.82L438.79,418.56Q440.4,417.76 442.2,417.62L450.76,416.96Q452.55,416.82 454.18,416.06L456.53,414.97Q458.16,414.21 459.74,413.34L460.32,413.02Q461.9,412.15 463.43,413.09L468.77,416.35Q470.31,417.29 471.48,418.66L477.55,425.74Q478.72,427.1 479.67,428.63L482.91,433.8Q483.86,435.33 484.79,436.87L485.74,438.46Q486.66,440 488.19,440.95L490.27,442.23Q491.8,443.18 493.11,444.42L494.24,445.49Q495.54,446.73 496.69,448.11L501.4,453.76Q502.55,455.14 504.35,455.14L506.36,455.14Q508.16,455.14 508.94,453.52L514.38,442.27Q515.17,440.65 515.8,438.97L517.34,434.86Q517.97,433.18 519.15,434.54L522.87,438.83Q524.05,440.19 525.63,439.33L528.54,437.77Q530.12,436.92 530.89,435.29L533.09,430.6Q533.86,428.97 535.41,428.06L537.91,426.61Q539.47,425.7 540.38,427.25L546.94,438.32" fill="none" stroke="#1f77b4" stroke-width="1.8" stroke-linejoin="round"/><circle cx="235.93" cy="406.73" r="3.0" fill="#1f77b4"/><circle cx="266.58" cy="405.42" r="3.0" fill="#1f77b4"/><circle cx="296.95" cy="444.67" r="3.0" fill="#1f77b4"/><circle cx="328.26" cy="429.72" r="3.0" fill="#1f77b4"/><circle cx="359.57" cy="426.36" r="3.0" fill="#1f77b4"/><circle cx="390.88" cy="433.64" r="3.0" fill="#1f77b4"/><circle cx="421.24" cy="433.46" r="3.0" fill="#1f77b4"/><circle cx="452.55" cy="416.64" r="3.0" fill="#1f77b4"/><circle cx="483.86" cy="435.33" r="3.0" fill="#1f77b4"/><circle cx="515.17" cy="440.65" r="3.0" fill="#1f77b4"/><circle cx="544.89" cy="436.64" r="3.0" fill="#1f77b4"/><path d="M235.93,485.08L261.04,485.08Q262.84,485.08 264.64,484.99L264.78,484.99Q266.58,484.9 268.21,485.46L268.21,485.46Q269.85,486.02 270.97,487.43L275.74,493.48Q276.86,494.9 278.09,496.21L283.1,501.53Q284.34,502.84 285.83,503.84L291.25,507.45Q292.75,508.45 294.42,509.12L295.75,509.65Q297.42,510.32 299.2,510.02L301.25,509.68Q303.03,509.38 304.2,508.02L310.27,500.94Q311.44,499.57 313.07,498.82L314.48,498.17Q316.11,497.42 317.91,497.42L319.92,497.42Q321.72,497.42 323.19,498.45L323.98,499.01Q325.46,500.04 326.86,500.74L326.86,500.74Q328.26,501.44 329.6,502.64L331.6,504.44Q332.93,505.64 334.37,506.73L336.17,508.11Q337.61,509.2 339.41,509.2L341.41,509.2Q343.21,509.2 344.77,508.29L351,504.68Q352.56,503.78 353.79,502.46L358.34,497.61Q359.57,496.3 360.66,494.87L367.36,486.05Q368.45,484.62 369.54,486.05L374.83,493Q375.93,494.43 377.13,495.77L383.13,502.44Q384.34,503.78 386.13,503.65L389.08,503.44Q390.88,503.31 390.97,503.31L390.97,503.31Q391.06,503.31 392.67,504.1L397.66,506.54Q399.28,507.33 400.81,506.37L413.64,498.37Q415.17,497.42 416.64,498.46L419.77,500.68Q421.24,501.72 422.86,502.51L422.89,502.52Q424.51,503.31 426.03,502.33L437.02,495.22Q438.53,494.24 440.33,494.24L447.01,494.24Q448.81,494.24 450.52,493.69L450.84,493.58Q452.55,493.03 453.99,491.95L454.85,491.3Q456.29,490.22 458.09,490.22L460.1,490.22Q461.9,490.22 463.37,491.26L469.77,495.73Q471.24,496.77 472.73,497.79L477.24,500.89Q478.72,501.91 480.22,502.91L482.83,504.65Q484.33,505.64 485.68,506.83L486.71,507.73Q488.07,508.92 489.86,509.02L490.94,509.09Q492.74,509.2 494.28,510.12L500.54,513.88Q502.08,514.8 503.88,514.8L505.89,514.8Q507.69,514.8 508.81,513.4L513.11,507.99Q514.23,506.58 515.67,505.5L516.53,504.86Q517.97,503.78 519.53,504.68L522.49,506.42Q524.05,507.33 525.6,506.42L528.57,504.68Q530.12,503.78 531.23,502.35L532.29,500.99Q533.39,499.57 534.93,498.63L537.93,496.78Q539.47,495.83 540.95,496.85L546.94,500.97" fill="none" stroke="#ff7f0e" stroke-width="1.8" stroke-linejoin="round"/><circle cx="235.93" cy="485.08" r="3.0" fill="#ff7f0e"/><circle cx="266.58" cy="484.9" r="3.0" fill="#ff7f0e"/><circle cx="297.42" cy="510.32" r="3.0" fill="#ff7f0e"/><circle cx="328.26" cy="501.44" r="3.0" fill="#ff7f0e"/><circle cx="359.57" cy="496.3" r="3.0" fill="#ff7f0e"/><circle cx="390.88" cy="503.31" r="3.0" fill="#ff7f0e"/><circle cx="421.24" cy="501.72" r="3.0" fill="#ff7f0e"/><circle cx="452.55" cy="493.03" r="3.0" fill="#ff7f0e"/><circle cx="484.33" cy="505.64" r="3.0" fill="#ff7f0e"/><circle cx="514.7" cy="506.77" r="3.0" fill="#ff7f0e"/><circle cx="544.89" cy="500.5" r="3.0" fill="#ff7f0e"/><path d="M235.93,499.85L261.04,499.85Q262.84,499.85 264.4,498.95L265.02,498.6Q266.58,497.7 267.75,497L267.75,497Q268.92,496.3 270.5,497.15L273.41,498.72Q274.99,499.57 276.19,500.92L277.53,502.43Q278.73,503.78 280.28,504.68L282.78,506.14Q284.34,507.05 286.05,507.58L290.1,508.85Q291.81,509.38 293.58,509.74L295.66,510.15Q297.42,510.5 298.59,511.44L298.59,511.44Q299.76,512.37 301.31,511.46L308.02,507.49Q309.57,506.58 310.98,505.45L312.84,503.97Q314.24,502.84 316.03,502.62L319.93,502.13Q321.72,501.91 323.41,502.54L323.77,502.68Q325.46,503.31 326.73,504.58L326.99,504.84Q328.26,506.11 329.81,507.04L331.39,507.99Q332.93,508.92 334.64,509.48L337.77,510.5Q339.48,511.07 341.18,511.64L342.45,512.07Q344.15,512.65 345.95,512.65L350.76,512.65Q352.56,512.65 353.97,511.53L358.16,508.17Q359.57,507.05 360.7,505.65L367.31,497.51Q368.45,496.11 369.99,497.04L371.58,497.99Q373.12,498.92 374.77,499.64L376.15,500.25Q377.79,500.97 379.29,501.97L381.9,503.71Q383.4,504.71 385.16,505.11L389.12,506Q390.88,506.39 390.97,506.49L390.97,506.49Q391.06,506.58 392.36,507.28L392.36,507.28Q393.67,507.98 394.84,509.35L398.11,513.16Q399.28,514.52 401.08,514.52L404.02,514.52Q405.82,514.52 407.37,513.6L413.62,509.84Q415.17,508.92 416.97,508.92L419.44,508.92Q421.24,508.92 422.88,509.38L422.88,509.38Q424.51,509.85 425.87,508.67L426.9,507.76Q428.25,506.58 429.81,505.68L435.1,502.62Q436.66,501.72 438.46,501.72L450.75,501.72Q452.55,501.72 454.35,501.72L456.36,501.72Q458.16,501.72 459.72,500.82L460.34,500.47Q461.9,499.57 463.7,499.57L469.44,499.57Q471.24,499.57 472.81,500.45L477.15,502.89Q478.72,503.78 480.19,504.81L482.85,506.67Q484.33,507.7 485.95,508.47L490.18,510.48Q491.8,511.25 493.29,512.27L500.6,517.25Q502.08,518.26 503.88,518.26L505.89,518.26Q507.69,518.26 509.05,517.08L513.81,512.9Q515.17,511.72 516.14,510.2L517,508.84Q517.97,507.33 519.53,508.22L522.95,510.17Q524.51,511.07 526.31,511.07L528.32,511.07Q530.12,511.07 531.31,509.71L532.21,508.68Q533.39,507.33 535.19,507.33L537.67,507.33Q539.47,507.33 540.81,508.53L546.94,514.06" fill="none" stroke="#2ca02c" stroke-width="1.8" stroke-linejoin="round"/><circle cx="235.93" cy="499.85" r="3.0" fill="#2ca02c"/><circle cx="266.58" cy="497.7" r="3.0" fill="#2ca02c"/><circle cx="297.42" cy="510.5" r="3.0" fill="#2ca02c"/><circle cx="328.26" cy="506.11" r="3.0" fill="#2ca02c"/><circle cx="359.57" cy="507.05" r="3.0" fill="#2ca02c"/><circle cx="390.88" cy="506.39" r="3.0" fill="#2ca02c"/><circle cx="421.24" cy="508.92" r="3.0" fill="#2ca02c"/><circle cx="452.55" cy="501.91" r="3.0" fill="#2ca02c"/><circle cx="484.33" cy="507.7" r="3.0" fill="#2ca02c"/><circle cx="515.17" cy="511.72" r="3.0" fill="#2ca02c"/><circle cx="544.89" cy="513.12" r="3.0" fill="#2ca02c"/><path d="M235.93,502.09L261.04,502.09Q262.84,502.09 264.54,501.5L264.88,501.38Q266.58,500.79 267.75,499.71L267.75,499.71Q268.92,498.64 270.28,499.81L270.82,500.27Q272.19,501.44 273.59,501.67L273.59,501.67Q274.99,501.91 276.4,503.03L277.32,503.77Q278.73,504.9 280.41,505.54L282.66,506.4Q284.34,507.05 286.08,507.48L286.33,507.54Q288.07,507.98 289.55,509.01L291.27,510.22Q292.75,511.25 294.27,512.21L294.96,512.63Q296.49,513.59 297.93,514.67L298.78,515.31Q300.22,516.39 301.76,515.45L307.1,512.19Q308.64,511.25 310.44,511.25L313.38,511.25Q315.18,511.25 316.53,512.44L317.56,513.34Q318.92,514.52 320.32,513.59L320.32,513.59Q321.72,512.65 323.52,512.65L323.66,512.65Q325.46,512.65 326.86,513.73L326.86,513.73Q328.26,514.8 329.91,515.53L331.29,516.13Q332.93,516.86 334.56,517.63L338.79,519.64Q340.41,520.41 342.21,520.41L344.69,520.41Q346.49,520.41 347.67,519.06L348.57,518.03Q349.76,516.67 351.52,516.32L351.73,516.28Q353.5,515.93 354.92,514.83L358.14,512.35Q359.57,511.25 360.68,509.83L367.34,501.27Q368.45,499.85 370.25,499.85L375.06,499.85Q376.86,499.85 378.22,501.03L381.11,503.53Q382.47,504.71 384.11,505.44L389.23,507.72Q390.88,508.45 390.97,508.36L390.97,508.36Q391.06,508.26 392.36,509.06L392.36,509.06Q393.67,509.85 394.69,511.33L398.26,516.5Q399.28,517.98 401.08,517.98L404.02,517.98Q405.82,517.98 407.56,517.5L408.76,517.16Q410.5,516.67 412.26,516.32L412.47,516.28Q414.23,515.93 415.51,514.65L415.76,514.39Q417.04,513.12 418.71,513.79L419.57,514.14Q421.24,514.8 423.04,514.8L428.32,514.8Q430.12,514.8 431.43,513.56L432.55,512.49Q433.86,511.25 435.55,510.65L438.71,509.52Q440.4,508.92 442.06,509.61L444.35,510.56Q446.01,511.25 447.8,511.38L450.76,511.59Q452.55,511.72 453.99,510.64L454.85,510Q456.29,508.92 458.09,508.92L460.1,508.92Q461.9,508.92 463.22,510.14L464.31,511.15Q465.64,512.37 467.04,511.81L467.04,511.81Q468.44,511.25 469.61,512.62L470.07,513.16Q471.24,514.52 473.04,514.52L475.05,514.52Q476.85,514.52 478.42,515.41L482.76,517.85Q484.33,518.73 485.97,519.47L486.42,519.67Q488.07,520.41 489.75,519.77L491.99,518.91Q493.67,518.26 495.35,518.91L497.6,519.77Q499.28,520.41 501.08,520.41L505.89,520.41Q507.69,520.41 509.33,519.67L513.53,517.79Q515.17,517.05 516.81,516.31L519.13,515.26Q520.78,514.52 522.41,515.28L523.81,515.92Q525.45,516.67 527.11,515.97L532.2,513.82Q533.86,513.12 535.66,513.12L537.67,513.12Q539.47,513.12 540.91,514.2L546.94,518.73" fill="none" stroke="#d62728" stroke-width="1.8" stroke-linejoin="round"/><circle cx="235.93" cy="502.09" r="3.0" fill="#d62728"/><circle cx="266.58" cy="500.79" r="3.0" fill="#d62728"/><circle cx="296.49" cy="513.59" r="3.0" fill="#d62728"/><circle cx="328.26" cy="514.8" r="3.0" fill="#d62728"/><circle cx="359.57" cy="511.25" r="3.0" fill="#d62728"/><circle cx="390.88" cy="508.45" r="3.0" fill="#d62728"/><circle cx="421.24" cy="514.8" r="3.0" fill="#d62728"/><circle cx="452.55" cy="511.72" r="3.0" fill="#d62728"/><circle cx="484.33" cy="518.73" r="3.0" fill="#d62728"/><circle cx="515.17" cy="517.05" r="3.0" fill="#d62728"/><circle cx="544.89" cy="517.61" r="3.0" fill="#d62728"/></g>
<rect x="235.1" y="355.6" width="310.7" height="185.7" fill="none" stroke="#222" stroke-width="1.1"/>
<path d="M231.1,541.3H235.1M235.1,541.3V545.3M231.1,504.16H235.1M297.24,541.3V545.3M231.1,467.02H235.1M359.38,541.3V545.3M231.1,429.88H235.1M421.52,541.3V545.3M231.1,392.74H235.1M483.66,541.3V545.3M231.1,355.6H235.1M545.8,541.3V545.3" stroke="#222" stroke-width="1.1"/>
<text x="226.6" y="545.2" text-anchor="end" class="t">0</text>
<text x="235.1" y="558.2" text-anchor="middle" class="t">0</text>
<text x="226.6" y="508.06" text-anchor="end" class="t">2</text>
<text x="297.24" y="558.2" text-anchor="middle" class="t">20</text>
<text x="226.6" y="470.92" text-anchor="end" class="t">4</text>
<text x="359.38" y="558.2" text-anchor="middle" class="t">40</text>
<text x="226.6" y="433.78" text-anchor="end" class="t">6</text>
<text x="421.52" y="558.2" text-anchor="middle" class="t">60</text>
<text x="226.6" y="396.64" text-anchor="end" class="t">8</text>
<text x="483.66" y="558.2" text-anchor="middle" class="t">80</text>
<text x="226.6" y="359.5" text-anchor="end" class="t">10</text>
<text x="545.8" y="558.2" text-anchor="middle" class="t">100</text>
<text x="390.45" y="574.1" text-anchor="middle" class="t al">Measurement Cycle</text>
<text transform="translate(205.1,448.45) rotate(-90)" text-anchor="middle" class="t al">Number of Selected Parameters</text>
<rect x="279.95" y="355.2" width="222" height="11.8" rx="1.5" fill="#fff" fill-opacity="0.9" stroke="#ccc" stroke-width="0.9"/>
<path d="M281.65,360.8H296.05" stroke="#1f77b4" stroke-width="1.6"/>
<text x="301.45" y="363" class="lg" textLength="25.8" lengthAdjust="spacingAndGlyphs">Original</text>
<path d="M340.25,360.8H354.55" stroke="#ff7f0e" stroke-width="1.6"/>
<text x="360.05" y="363" class="lg" textLength="34.6" lengthAdjust="spacingAndGlyphs">G.Descent</text>
<path d="M407.55,360.8H422.05" stroke="#2ca02c" stroke-width="1.6"/>
<text x="426.55" y="363" class="lg" textLength="18.2" lengthAdjust="spacingAndGlyphs">CHI-S</text>
<path d="M458.45,360.8H472.85" stroke="#d62728" stroke-width="1.6"/>
<text x="477.45" y="363" class="lg" textLength="20.8" lengthAdjust="spacingAndGlyphs">CcBPS</text>
<text x="371" y="630.7" text-anchor="middle" class="cap">(f)</text>
<clipPath id="cpg"><rect x="670.9" y="357.9" width="310.7" height="185.7"/></clipPath>
<g clip-path="url(#cpg)"><path d="M670.9,394.59 L981.6,394.59" fill="none" stroke="#1f77b4" stroke-width="1.8" stroke-linejoin="round"/><circle cx="670.9" cy="394.59" r="3.0" fill="#1f77b4"/><circle cx="701.97" cy="394.59" r="3.0" fill="#1f77b4"/><circle cx="733.04" cy="394.59" r="3.0" fill="#1f77b4"/><circle cx="764.11" cy="394.59" r="3.0" fill="#1f77b4"/><circle cx="795.18" cy="394.59" r="3.0" fill="#1f77b4"/><circle cx="826.25" cy="394.59" r="3.0" fill="#1f77b4"/><circle cx="857.32" cy="394.59" r="3.0" fill="#1f77b4"/><circle cx="888.39" cy="394.59" r="3.0" fill="#1f77b4"/><circle cx="919.46" cy="394.59" r="3.0" fill="#1f77b4"/><circle cx="950.53" cy="394.59" r="3.0" fill="#1f77b4"/><circle cx="981.6" cy="394.59" r="3.0" fill="#1f77b4"/><path d="M670.9,487.44 L981.6,487.44" fill="none" stroke="#ff7f0e" stroke-width="1.8" stroke-linejoin="round"/><circle cx="670.9" cy="487.44" r="3.0" fill="#ff7f0e"/><circle cx="701.97" cy="487.44" r="3.0" fill="#ff7f0e"/><circle cx="733.04" cy="487.44" r="3.0" fill="#ff7f0e"/><circle cx="764.11" cy="487.44" r="3.0" fill="#ff7f0e"/><circle cx="795.18" cy="487.44" r="3.0" fill="#ff7f0e"/><circle cx="826.25" cy="487.44" r="3.0" fill="#ff7f0e"/><circle cx="857.32" cy="487.44" r="3.0" fill="#ff7f0e"/><circle cx="888.39" cy="487.44" r="3.0" fill="#ff7f0e"/><circle cx="919.46" cy="487.44" r="3.0" fill="#ff7f0e"/><circle cx="950.53" cy="487.44" r="3.0" fill="#ff7f0e"/><circle cx="981.6" cy="487.44" r="3.0" fill="#ff7f0e"/><path d="M670.9,506.01L673.91,488.03Q674.01,487.44 674.61,487.44L676.51,487.44Q677.11,487.44 677.71,487.44L679.62,487.44Q680.22,487.44 680.32,488.03L683.23,505.42Q683.33,506.01 683.43,505.42L686.34,488.03Q686.43,487.44 686.53,488.03L689.44,505.42Q689.54,506.01 689.64,505.42L692.55,488.03Q692.65,487.44 693.25,487.44L695.16,487.44Q695.76,487.44 695.86,488.03L698.76,505.42Q698.86,506.01 698.96,505.42L701.87,488.03Q701.97,487.44 702.57,487.44L704.48,487.44Q705.08,487.44 705.18,488.03L708.08,505.42Q708.18,506.01 708.28,505.42L711.19,488.03Q711.29,487.44 711.89,487.44L713.8,487.44Q714.4,487.44 714.5,488.03L717.41,505.42Q717.5,506.01 717.6,505.42L720.51,488.03Q720.61,487.44 721.21,487.44L723.12,487.44Q723.72,487.44 723.82,488.03L726.73,505.42Q726.83,506.01 726.93,505.42L729.83,488.03Q729.93,487.44 730.53,487.44L732.44,487.44Q733.04,487.44 733.64,487.44L735.55,487.44Q736.15,487.44 736.25,488.03L739.15,505.42Q739.25,506.01 739.35,505.42L742.26,488.03Q742.36,487.44 742.96,487.44L744.87,487.44Q745.47,487.44 745.57,488.03L748.48,505.42Q748.57,506.01 748.67,505.42L751.58,488.03Q751.68,487.44 752.28,487.44L754.19,487.44Q754.79,487.44 754.89,488.03L757.8,505.42Q757.9,506.01 758,505.42L760.9,488.03Q761,487.44 761.6,487.44L763.51,487.44Q764.11,487.44 764.71,487.44L766.62,487.44Q767.22,487.44 767.32,488.03L770.22,505.42Q770.32,506.01 770.42,505.42L773.33,488.03Q773.43,487.44 774.03,487.44L775.94,487.44Q776.54,487.44 777.14,487.44L779.04,487.44Q779.64,487.44 779.74,488.03L782.65,505.42Q782.75,506.01 782.85,505.42L785.76,488.03Q785.86,487.44 786.46,487.44L788.37,487.44Q788.97,487.44 789.07,488.03L791.97,505.42Q792.07,506.01 792.17,505.42L795.08,488.03Q795.18,487.44 795.28,488.03L798.19,505.42Q798.29,506.01 798.39,505.42L801.29,488.03Q801.39,487.44 801.99,487.44L803.9,487.44Q804.5,487.44 805.1,487.44L807.01,487.44Q807.61,487.44 808.21,487.44L810.11,487.44Q810.71,487.44 811.31,487.44L813.22,487.44Q813.82,487.44 814.42,487.44L816.33,487.44Q816.93,487.44 817.53,487.44L819.44,487.44Q820.04,487.44 820.64,487.44L822.54,487.44Q823.14,487.44 823.74,487.44L825.65,487.44Q826.25,487.44 826.85,487.44L828.76,487.44Q829.36,487.44 829.96,487.44L831.86,487.44Q832.46,487.44 833.06,487.44L834.97,487.44Q835.57,487.44 835.67,488.03L838.58,505.42Q838.68,506.01 838.78,505.42L841.69,488.03Q841.78,487.44 842.38,487.44L844.29,487.44Q844.89,487.44 844.99,488.03L847.9,505.42Q848,506.01 848.1,505.42L851.01,488.03Q851.11,487.44 851.21,488.03L854.11,505.42Q854.21,506.01 854.31,505.42L857.22,488.03Q857.32,487.44 857.92,487.44L859.83,487.44Q860.43,487.44 860.53,488.03L863.43,505.42Q863.53,506.01 863.63,505.42L866.54,488.03Q866.64,487.44 867.24,487.44L869.15,487.44Q869.75,487.44 869.85,488.03L872.76,505.42Q872.86,506.01 872.95,505.42L875.86,488.03Q875.96,487.44 876.06,488.03L878.97,505.42Q879.07,506.01 879.17,505.42L882.08,488.03Q882.18,487.44 882.78,487.44L884.68,487.44Q885.28,487.44 885.38,488.03L888.29,505.42Q888.39,506.01 888.49,505.42L891.4,488.03Q891.5,487.44 892.1,487.44L894,487.44Q894.6,487.44 895.2,487.44L897.11,487.44Q897.71,487.44 897.81,488.03L900.72,505.42Q900.82,506.01 900.92,505.42L903.83,488.03Q903.92,487.44 904.02,488.03L906.93,505.42Q907.03,506.01 907.13,505.42L910.04,488.03Q910.14,487.44 910.74,487.44L912.65,487.44Q913.25,487.44 913.85,487.44L915.75,487.44Q916.35,487.44 916.95,487.44L918.86,487.44Q919.46,487.44 919.56,488.03L922.47,505.42Q922.57,506.01 922.67,505.42L925.57,488.03Q925.67,487.44 926.27,487.44L928.18,487.44Q928.78,487.44 929.38,487.44L931.29,487.44Q931.89,487.44 932.49,487.44L934.39,487.44Q934.99,487.44 935.59,487.44L937.5,487.44Q938.1,487.44 938.7,487.44L940.61,487.44Q941.21,487.44 941.81,487.44L943.72,487.44Q944.32,487.44 944.92,487.44L946.82,487.44Q947.42,487.44 948.02,487.44L949.93,487.44Q950.53,487.44 951.13,487.44L953.04,487.44Q953.64,487.44 954.24,487.44L956.14,487.44Q956.74,487.44 957.34,487.44L959.25,487.44Q959.85,487.44 960.45,487.44L962.36,487.44Q962.96,487.44 963.06,488.03L965.97,505.42Q966.06,506.01 966.16,505.42L969.07,488.03Q969.17,487.44 969.77,487.44L971.68,487.44Q972.28,487.44 972.88,487.44L974.79,487.44Q975.39,487.44 975.49,488.03L978.39,505.42Q978.49,506.01 978.59,505.42L981.6,487.44" fill="none" stroke="#2ca02c" stroke-width="1.8" stroke-linejoin="round"/><circle cx="670.9" cy="506.01" r="3.0" fill="#2ca02c"/><circle cx="701.97" cy="487.44" r="3.0" fill="#2ca02c"/><circle cx="733.04" cy="487.44" r="3.0" fill="#2ca02c"/><circle cx="764.11" cy="487.44" r="3.0" fill="#2ca02c"/><circle cx="795.18" cy="487.44" r="3.0" fill="#2ca02c"/><circle cx="826.25" cy="487.44" r="3.0" fill="#2ca02c"/><circle cx="857.32" cy="487.44" r="3.0" fill="#2ca02c"/><circle cx="888.39" cy="506.01" r="3.0" fill="#2ca02c"/><circle cx="919.46" cy="487.44" r="3.0" fill="#2ca02c"/><circle cx="950.53" cy="487.44" r="3.0" fill="#2ca02c"/><circle cx="981.6" cy="487.44" r="3.0" fill="#2ca02c"/><path d="M670.9,524.58 L981.6,524.58" fill="none" stroke="#d62728" stroke-width="1.8" stroke-linejoin="round"/><circle cx="670.9" cy="524.58" r="3.0" fill="#d62728"/><circle cx="701.97" cy="524.58" r="3.0" fill="#d62728"/><circle cx="733.04" cy="524.58" r="3.0" fill="#d62728"/><circle cx="764.11" cy="524.58" r="3.0" fill="#d62728"/><circle cx="795.18" cy="524.58" r="3.0" fill="#d62728"/><circle cx="826.25" cy="524.58" r="3.0" fill="#d62728"/><circle cx="857.32" cy="524.58" r="3.0" fill="#d62728"/><circle cx="888.39" cy="524.58" r="3.0" fill="#d62728"/><circle cx="919.46" cy="524.58" r="3.0" fill="#d62728"/><circle cx="950.53" cy="524.58" r="3.0" fill="#d62728"/><circle cx="981.6" cy="524.58" r="3.0" fill="#d62728"/></g>
<rect x="670.9" y="357.9" width="310.7" height="185.7" fill="none" stroke="#222" stroke-width="1.1"/>
<path d="M666.9,543.6H670.9M670.9,543.6V547.6M666.9,506.46H670.9M733.04,543.6V547.6M666.9,469.32H670.9M795.18,543.6V547.6M666.9,432.18H670.9M857.32,543.6V547.6M666.9,395.04H670.9M919.46,543.6V547.6M666.9,357.9H670.9M981.6,543.6V547.6" stroke="#222" stroke-width="1.1"/>
<text x="662.4" y="547.5" text-anchor="end" class="t">0</text>
<text x="670.9" y="560.5" text-anchor="middle" class="t">0</text>
<text x="662.4" y="510.36" text-anchor="end" class="t">2</text>
<text x="733.04" y="560.5" text-anchor="middle" class="t">20</text>
<text x="662.4" y="473.22" text-anchor="end" class="t">4</text>
<text x="795.18" y="560.5" text-anchor="middle" class="t">40</text>
<text x="662.4" y="436.08" text-anchor="end" class="t">6</text>
<text x="857.32" y="560.5" text-anchor="middle" class="t">60</text>
<text x="662.4" y="398.94" text-anchor="end" class="t">8</text>
<text x="919.46" y="560.5" text-anchor="middle" class="t">80</text>
<text x="662.4" y="361.8" text-anchor="end" class="t">10</text>
<text x="981.6" y="560.5" text-anchor="middle" class="t">100</text>
<text x="826.25" y="576.4" text-anchor="middle" class="t al">Measurement Cycle</text>
<text transform="translate(640.9,450.75) rotate(-90)" text-anchor="middle" class="t al">Number of Selected Parameters</text>
<rect x="715.75" y="357.5" width="222" height="11.8" rx="1.5" fill="#fff" fill-opacity="0.9" stroke="#ccc" stroke-width="0.9"/>
<path d="M717.45,363.1H731.85" stroke="#1f77b4" stroke-width="1.6"/>
<text x="737.25" y="365.3" class="lg" textLength="25.8" lengthAdjust="spacingAndGlyphs">Original</text>
<path d="M776.05,363.1H790.35" stroke="#ff7f0e" stroke-width="1.6"/>
<text x="795.85" y="365.3" class="lg" textLength="34.6" lengthAdjust="spacingAndGlyphs">G.Descent</text>
<path d="M843.35,363.1H857.85" stroke="#2ca02c" stroke-width="1.6"/>
<text x="862.35" y="365.3" class="lg" textLength="18.2" lengthAdjust="spacingAndGlyphs">CHI-S</text>
<path d="M894.25,363.1H908.65" stroke="#d62728" stroke-width="1.6"/>
<text x="913.25" y="365.3" class="lg" textLength="20.8" lengthAdjust="spacingAndGlyphs">CcBPS</text>
<text x="822.5" y="632.8" text-anchor="middle" class="cap">(g)</text>
<clipPath id="cph"><rect x="1100" y="355.7" width="310.7" height="185.7"/></clipPath>
<g clip-path="url(#cph)"><path d="M1100,410.91L1103.01,392.93Q1103.11,392.34 1103.71,392.34L1105.61,392.34Q1106.21,392.34 1106.31,392.93L1109.22,410.32Q1109.32,410.91 1109.92,410.91L1111.83,410.91Q1112.43,410.91 1112.53,410.32L1115.44,392.93Q1115.54,392.34 1116.13,392.34L1118.04,392.34Q1118.64,392.34 1119.24,392.34L1121.15,392.34Q1121.75,392.34 1122.35,392.34L1124.26,392.34Q1124.86,392.34 1125.46,392.34L1127.36,392.34Q1127.96,392.34 1128.56,392.34L1130.47,392.34Q1131.07,392.34 1131.67,392.34L1133.58,392.34Q1134.18,392.34 1134.78,392.34L1136.68,392.34Q1137.28,392.34 1137.88,392.34L1139.79,392.34Q1140.39,392.34 1140.99,392.34L1142.9,392.34Q1143.5,392.34 1144.1,392.34L1146.01,392.34Q1146.61,392.34 1147.2,392.34L1149.11,392.34Q1149.71,392.34 1150.31,392.34L1152.22,392.34Q1152.82,392.34 1153.42,392.34L1155.33,392.34Q1155.93,392.34 1156.03,392.93L1158.93,410.32Q1159.03,410.91 1159.63,410.91L1161.54,410.91Q1162.14,410.91 1162.24,410.32L1165.15,392.93Q1165.25,392.34 1165.85,392.34L1167.75,392.34Q1168.35,392.34 1168.95,392.34L1170.86,392.34Q1171.46,392.34 1172.06,392.34L1173.97,392.34Q1174.57,392.34 1175.17,392.34L1177.08,392.34Q1177.67,392.34 1178.27,392.34L1180.18,392.34Q1180.78,392.34 1181.38,392.34L1183.29,392.34Q1183.89,392.34 1184.49,392.34L1186.4,392.34Q1187,392.34 1187.1,392.93L1190,410.32Q1190.1,410.91 1190.7,410.91L1192.61,410.91Q1193.21,410.91 1193.31,410.32L1196.22,392.93Q1196.32,392.34 1196.92,392.34L1198.82,392.34Q1199.42,392.34 1200.02,392.34L1201.93,392.34Q1202.53,392.34 1203.13,392.34L1205.04,392.34Q1205.64,392.34 1206.24,392.34L1208.14,392.34Q1208.74,392.34 1208.84,392.93L1211.75,410.32Q1211.85,410.91 1212.45,410.91L1214.36,410.91Q1214.96,410.91 1215.06,410.32L1217.97,392.93Q1218.07,392.34 1218.67,392.34L1220.57,392.34Q1221.17,392.34 1221.77,392.34L1223.68,392.34Q1224.28,392.34 1224.88,392.34L1226.79,392.34Q1227.39,392.34 1227.49,392.93L1230.39,410.32Q1230.49,410.91 1231.09,410.91L1233,410.91Q1233.6,410.91 1234.2,410.91L1236.11,410.91Q1236.71,410.91 1237.31,410.91L1239.22,410.91Q1239.82,410.91 1239.91,410.32L1242.82,392.93Q1242.92,392.34 1243.52,392.34L1245.43,392.34Q1246.03,392.34 1246.13,392.93L1249.04,410.32Q1249.14,410.91 1249.74,410.91L1251.64,410.91Q1252.24,410.91 1252.34,410.32L1255.25,392.93Q1255.35,392.34 1255.95,392.34L1257.86,392.34Q1258.46,392.34 1258.56,392.93L1261.46,410.32Q1261.56,410.91 1262.16,410.91L1264.07,410.91Q1264.67,410.91 1264.77,410.32L1267.68,392.93Q1267.78,392.34 1268.38,392.34L1270.29,392.34Q1270.88,392.34 1271.48,392.34L1273.39,392.34Q1273.99,392.34 1274.09,392.93L1277,410.32Q1277.1,410.91 1277.7,410.91L1279.61,410.91Q1280.21,410.91 1280.31,410.32L1283.21,392.93Q1283.31,392.34 1283.91,392.34L1285.82,392.34Q1286.42,392.34 1287.02,392.34L1288.93,392.34Q1289.53,392.34 1290.13,392.34L1292.03,392.34Q1292.63,392.34 1293.23,392.34L1295.14,392.34Q1295.74,392.34 1295.84,392.93L1298.75,410.32Q1298.85,410.91 1299.45,410.91L1301.36,410.91Q1301.95,410.91 1302.05,410.32L1304.96,392.93Q1305.06,392.34 1305.66,392.34L1307.57,392.34Q1308.17,392.34 1308.27,392.93L1311.18,410.32Q1311.28,410.91 1311.88,410.91L1313.78,410.91Q1314.38,410.91 1314.48,410.32L1317.39,392.93Q1317.49,392.34 1318.09,392.34L1320,392.34Q1320.6,392.34 1321.2,392.34L1323.1,392.34Q1323.7,392.34 1323.8,392.93L1326.71,410.32Q1326.81,410.91 1326.91,410.32L1329.82,392.93Q1329.92,392.34 1330.02,392.93L1332.93,410.32Q1333.03,410.91 1333.62,410.91L1335.53,410.91Q1336.13,410.91 1336.23,410.32L1339.14,392.93Q1339.24,392.34 1339.84,392.34L1341.75,392.34Q1342.35,392.34 1342.95,392.34L1344.85,392.34Q1345.45,392.34 1346.05,392.34L1347.96,392.34Q1348.56,392.34 1349.16,392.34L1351.07,392.34Q1351.67,392.34 1352.27,392.34L1354.17,392.34Q1354.77,392.34 1355.37,392.34L1357.28,392.34Q1357.88,392.34 1357.98,392.93L1360.89,410.32Q1360.99,410.91 1361.59,410.91L1363.5,410.91Q1364.1,410.91 1364.19,410.32L1367.1,392.93Q1367.2,392.34 1367.8,392.34L1369.71,392.34Q1370.31,392.34 1370.91,392.34L1372.82,392.34Q1373.42,392.34 1373.52,392.93L1376.42,410.32Q1376.52,410.91 1376.62,410.32L1379.53,392.93Q1379.63,392.34 1379.73,392.93L1382.64,410.32Q1382.74,410.91 1383.34,410.91L1385.24,410.91Q1385.84,410.91 1385.94,410.32L1388.85,392.93Q1388.95,392.34 1389.55,392.34L1391.46,392.34Q1392.06,392.34 1392.66,392.34L1394.57,392.34Q1395.16,392.34 1395.26,392.93L1398.17,410.32Q1398.27,410.91 1398.37,410.32L1401.28,392.93Q1401.38,392.34 1401.98,392.34L1403.89,392.34Q1404.49,392.34 1405.09,392.34L1406.99,392.34Q1407.59,392.34 1407.69,392.93L1410.7,410.91" fill="none" stroke="#1f77b4" stroke-width="1.8" stroke-linejoin="round"/><circle cx="1100" cy="410.91" r="3.0" fill="#1f77b4"/><circle cx="1131.07" cy="392.34" r="3.0" fill="#1f77b4"/><circle cx="1162.14" cy="410.91" r="3.0" fill="#1f77b4"/><circle cx="1193.21" cy="410.91" r="3.0" fill="#1f77b4"/><circle cx="1224.28" cy="392.34" r="3.0" fill="#1f77b4"/><circle cx="1255.35" cy="392.34" r="3.0" fill="#1f77b4"/><circle cx="1286.42" cy="392.34" r="3.0" fill="#1f77b4"/><circle cx="1317.49" cy="392.34" r="3.0" fill="#1f77b4"/><circle cx="1348.56" cy="392.34" r="3.0" fill="#1f77b4"/><circle cx="1379.63" cy="392.34" r="3.0" fill="#1f77b4"/><circle cx="1410.7" cy="410.91" r="3.0" fill="#1f77b4"/><path d="M1100,485.19 L1410.7,485.19" fill="none" stroke="#ff7f0e" stroke-width="1.8" stroke-linejoin="round"/><circle cx="1100" cy="485.19" r="3.0" fill="#ff7f0e"/><circle cx="1131.07" cy="485.19" r="3.0" fill="#ff7f0e"/><circle cx="1162.14" cy="485.19" r="3.0" fill="#ff7f0e"/><circle cx="1193.21" cy="485.19" r="3.0" fill="#ff7f0e"/><circle cx="1224.28" cy="485.19" r="3.0" fill="#ff7f0e"/><circle cx="1255.35" cy="485.19" r="3.0" fill="#ff7f0e"/><circle cx="1286.42" cy="485.19" r="3.0" fill="#ff7f0e"/><circle cx="1317.49" cy="485.19" r="3.0" fill="#ff7f0e"/><circle cx="1348.56" cy="485.19" r="3.0" fill="#ff7f0e"/><circle cx="1379.63" cy="485.19" r="3.0" fill="#ff7f0e"/><circle cx="1410.7" cy="485.19" r="3.0" fill="#ff7f0e"/><path d="M1100,503.76L1103.01,485.78Q1103.11,485.19 1103.71,485.19L1105.61,485.19Q1106.21,485.19 1106.31,485.78L1109.22,503.17Q1109.32,503.76 1109.92,503.76L1111.83,503.76Q1112.43,503.76 1112.53,503.17L1115.44,485.78Q1115.54,485.19 1116.13,485.19L1118.04,485.19Q1118.64,485.19 1119.24,485.19L1121.15,485.19Q1121.75,485.19 1122.35,485.19L1124.26,485.19Q1124.86,485.19 1125.46,485.19L1127.36,485.19Q1127.96,485.19 1128.56,485.19L1130.47,485.19Q1131.07,485.19 1131.67,485.19L1133.58,485.19Q1134.18,485.19 1134.78,485.19L1136.68,485.19Q1137.28,485.19 1137.88,485.19L1139.79,485.19Q1140.39,485.19 1140.99,485.19L1142.9,485.19Q1143.5,485.19 1144.1,485.19L1146.01,485.19Q1146.61,485.19 1147.2,485.19L1149.11,485.19Q1149.71,485.19 1150.31,485.19L1152.22,485.19Q1152.82,485.19 1153.42,485.19L1155.33,485.19Q1155.93,485.19 1156.03,485.78L1158.93,503.17Q1159.03,503.76 1159.63,503.76L1161.54,503.76Q1162.14,503.76 1162.24,503.17L1165.15,485.78Q1165.25,485.19 1165.85,485.19L1167.75,485.19Q1168.35,485.19 1168.95,485.19L1170.86,485.19Q1171.46,485.19 1172.06,485.19L1173.97,485.19Q1174.57,485.19 1175.17,485.19L1177.08,485.19Q1177.67,485.19 1178.27,485.19L1180.18,485.19Q1180.78,485.19 1181.38,485.19L1183.29,485.19Q1183.89,485.19 1184.49,485.19L1186.4,485.19Q1187,485.19 1187.1,485.78L1190,503.17Q1190.1,503.76 1190.7,503.76L1192.61,503.76Q1193.21,503.76 1193.31,503.17L1196.22,485.78Q1196.32,485.19 1196.92,485.19L1198.82,485.19Q1199.42,485.19 1200.02,485.19L1201.93,485.19Q1202.53,485.19 1203.13,485.19L1205.04,485.19Q1205.64,485.19 1206.24,485.19L1208.14,485.19Q1208.74,485.19 1208.84,485.78L1211.75,503.17Q1211.85,503.76 1212.45,503.76L1214.36,503.76Q1214.96,503.76 1215.06,503.17L1217.97,485.78Q1218.07,485.19 1218.67,485.19L1220.57,485.19Q1221.17,485.19 1221.77,485.19L1223.68,485.19Q1224.28,485.19 1224.88,485.19L1226.79,485.19Q1227.39,485.19 1227.49,485.78L1230.39,503.17Q1230.49,503.76 1231.09,503.76L1233,503.76Q1233.6,503.76 1234.2,503.76L1236.11,503.76Q1236.71,503.76 1237.31,503.76L1239.22,503.76Q1239.82,503.76 1239.91,503.17L1242.82,485.78Q1242.92,485.19 1243.52,485.19L1245.43,485.19Q1246.03,485.19 1246.13,485.78L1249.04,503.17Q1249.14,503.76 1249.74,503.76L1251.64,503.76Q1252.24,503.76 1252.34,503.17L1255.25,485.78Q1255.35,485.19 1255.95,485.19L1257.86,485.19Q1258.46,485.19 1258.56,485.78L1261.46,503.17Q1261.56,503.76 1262.16,503.76L1264.07,503.76Q1264.67,503.76 1264.77,503.17L1267.68,485.78Q1267.78,485.19 1268.38,485.19L1270.29,485.19Q1270.88,485.19 1271.48,485.19L1273.39,485.19Q1273.99,485.19 1274.09,485.78L1277,503.17Q1277.1,503.76 1277.7,503.76L1279.61,503.76Q1280.21,503.76 1280.31,503.17L1283.21,485.78Q1283.31,485.19 1283.91,485.19L1285.82,485.19Q1286.42,485.19 1287.02,485.19L1288.93,485.19Q1289.53,485.19 1290.13,485.19L1292.03,485.19Q1292.63,485.19 1293.23,485.19L1295.14,485.19Q1295.74,485.19 1295.84,485.78L1298.75,503.17Q1298.85,503.76 1299.45,503.76L1301.36,503.76Q1301.95,503.76 1302.05,503.17L1304.96,485.78Q1305.06,485.19 1305.66,485.19L1307.57,485.19Q1308.17,485.19 1308.27,485.78L1311.18,503.17Q1311.28,503.76 1311.88,503.76L1313.78,503.76Q1314.38,503.76 1314.48,503.17L1317.39,485.78Q1317.49,485.19 1318.09,485.19L1320,485.19Q1320.6,485.19 1321.2,485.19L1323.1,485.19Q1323.7,485.19 1323.8,485.78L1326.71,503.17Q1326.81,503.76 1326.91,503.17L1329.82,485.78Q1329.92,485.19 1330.02,485.78L1332.93,503.17Q1333.03,503.76 1333.62,503.76L1335.53,503.76Q1336.13,503.76 1336.23,503.17L1339.14,485.78Q1339.24,485.19 1339.84,485.19L1341.75,485.19Q1342.35,485.19 1342.95,485.19L1344.85,485.19Q1345.45,485.19 1346.05,485.19L1347.96,485.19Q1348.56,485.19 1349.16,485.19L1351.07,485.19Q1351.67,485.19 1352.27,485.19L1354.17,485.19Q1354.77,485.19 1355.37,485.19L1357.28,485.19Q1357.88,485.19 1357.98,485.78L1360.89,503.17Q1360.99,503.76 1361.59,503.76L1363.5,503.76Q1364.1,503.76 1364.19,503.17L1367.1,485.78Q1367.2,485.19 1367.8,485.19L1369.71,485.19Q1370.31,485.19 1370.91,485.19L1372.82,485.19Q1373.42,485.19 1373.52,485.78L1376.42,503.17Q1376.52,503.76 1376.62,503.17L1379.53,485.78Q1379.63,485.19 1379.73,485.78L1382.64,503.17Q1382.74,503.76 1383.34,503.76L1385.24,503.76Q1385.84,503.76 1385.94,503.17L1388.85,485.78Q1388.95,485.19 1389.55,485.19L1391.46,485.19Q1392.06,485.19 1392.66,485.19L1394.57,485.19Q1395.16,485.19 1395.26,485.78L1398.17,503.17Q1398.27,503.76 1398.37,503.17L1401.28,485.78Q1401.38,485.19 1401.98,485.19L1403.89,485.19Q1404.49,485.19 1405.09,485.19L1406.99,485.19Q1407.59,485.19 1407.69,485.78L1410.7,503.76" fill="none" stroke="#2ca02c" stroke-width="1.8" stroke-linejoin="round"/><circle cx="1100" cy="503.76" r="3.0" fill="#2ca02c"/><circle cx="1131.07" cy="485.19" r="3.0" fill="#2ca02c"/><circle cx="1162.14" cy="503.76" r="3.0" fill="#2ca02c"/><circle cx="1193.21" cy="503.76" r="3.0" fill="#2ca02c"/><circle cx="1224.28" cy="485.19" r="3.0" fill="#2ca02c"/><circle cx="1255.35" cy="485.19" r="3.0" fill="#2ca02c"/><circle cx="1286.42" cy="485.19" r="3.0" fill="#2ca02c"/><circle cx="1317.49" cy="485.19" r="3.0" fill="#2ca02c"/><circle cx="1348.56" cy="485.19" r="3.0" fill="#2ca02c"/><circle cx="1379.63" cy="485.19" r="3.0" fill="#2ca02c"/><circle cx="1410.7" cy="503.76" r="3.0" fill="#2ca02c"/><path d="M1100,522.33L1103.01,504.35Q1103.11,503.76 1103.21,504.35L1106.11,521.74Q1106.21,522.33 1106.81,522.33L1108.72,522.33Q1109.32,522.33 1109.92,522.33L1111.83,522.33Q1112.43,522.33 1113.03,522.33L1114.94,522.33Q1115.54,522.33 1116.13,522.33L1118.04,522.33Q1118.64,522.33 1118.74,521.74L1121.65,504.35Q1121.75,503.76 1121.85,504.35L1124.76,521.74Q1124.86,522.33 1125.46,522.33L1127.36,522.33Q1127.96,522.33 1128.06,521.74L1130.97,504.35Q1131.07,503.76 1131.17,504.35L1134.08,521.74Q1134.18,522.33 1134.78,522.33L1136.68,522.33Q1137.28,522.33 1137.88,522.33L1139.79,522.33Q1140.39,522.33 1140.49,521.74L1143.4,504.35Q1143.5,503.76 1143.6,504.35L1146.51,521.74Q1146.61,522.33 1147.2,522.33L1149.11,522.33Q1149.71,522.33 1149.81,521.74L1152.72,504.35Q1152.82,503.76 1152.92,504.35L1155.83,521.74Q1155.93,522.33 1156.53,522.33L1158.43,522.33Q1159.03,522.33 1159.13,521.74L1162.04,504.35Q1162.14,503.76 1162.24,504.35L1165.15,521.74Q1165.25,522.33 1165.85,522.33L1167.75,522.33Q1168.35,522.33 1168.45,521.74L1171.36,504.35Q1171.46,503.76 1171.56,504.35L1174.47,521.74Q1174.57,522.33 1175.17,522.33L1177.08,522.33Q1177.67,522.33 1177.77,521.74L1180.68,504.35Q1180.78,503.76 1180.88,504.35L1183.79,521.74Q1183.89,522.33 1183.99,521.74L1186.9,504.35Q1187,503.76 1187.1,504.35L1190,521.74Q1190.1,522.33 1190.7,522.33L1192.61,522.33Q1193.21,522.33 1193.81,522.33L1195.72,522.33Q1196.32,522.33 1196.42,521.74L1199.32,504.35Q1199.42,503.76 1199.52,504.35L1202.43,521.74Q1202.53,522.33 1202.63,521.74L1205.54,504.35Q1205.64,503.76 1205.74,504.35L1208.65,521.74Q1208.74,522.33 1208.84,521.74L1211.75,504.35Q1211.85,503.76 1211.95,504.35L1214.86,521.74Q1214.96,522.33 1215.56,522.33L1217.47,522.33Q1218.07,522.33 1218.17,521.74L1221.07,504.35Q1221.17,503.76 1221.27,504.35L1224.18,521.74Q1224.28,522.33 1224.38,521.74L1227.29,504.35Q1227.39,503.76 1227.49,504.35L1230.39,521.74Q1230.49,522.33 1231.09,522.33L1233,522.33Q1233.6,522.33 1234.2,522.33L1236.11,522.33Q1236.71,522.33 1237.31,522.33L1239.22,522.33Q1239.82,522.33 1239.91,521.74L1242.82,504.35Q1242.92,503.76 1243.02,504.35L1245.93,521.74Q1246.03,522.33 1246.63,522.33L1248.54,522.33Q1249.14,522.33 1249.24,521.74L1252.14,504.35Q1252.24,503.76 1252.34,504.35L1255.25,521.74Q1255.35,522.33 1255.45,521.74L1258.36,504.35Q1258.46,503.76 1258.56,504.35L1261.46,521.74Q1261.56,522.33 1262.16,522.33L1264.07,522.33Q1264.67,522.33 1265.27,522.33L1267.18,522.33Q1267.78,522.33 1268.38,522.33L1270.29,522.33Q1270.88,522.33 1270.98,521.74L1273.89,504.35Q1273.99,503.76 1274.09,504.35L1277,521.74Q1277.1,522.33 1277.7,522.33L1279.61,522.33Q1280.21,522.33 1280.31,521.74L1283.21,504.35Q1283.31,503.76 1283.41,504.35L1286.32,521.74Q1286.42,522.33 1287.02,522.33L1288.93,522.33Q1289.53,522.33 1290.13,522.33L1292.03,522.33Q1292.63,522.33 1293.23,522.33L1295.14,522.33Q1295.74,522.33 1295.84,521.74L1298.75,504.35Q1298.85,503.76 1298.95,504.35L1301.86,521.74Q1301.95,522.33 1302.55,522.33L1304.46,522.33Q1305.06,522.33 1305.16,521.74L1308.07,504.35Q1308.17,503.76 1308.27,504.35L1311.18,521.74Q1311.28,522.33 1311.88,522.33L1313.78,522.33Q1314.38,522.33 1314.98,522.33L1316.89,522.33Q1317.49,522.33 1318.09,522.33L1320,522.33Q1320.6,522.33 1321.2,522.33L1323.1,522.33Q1323.7,522.33 1323.8,521.74L1326.71,504.35Q1326.81,503.76 1326.91,504.35L1329.82,521.74Q1329.92,522.33 1330.52,522.33L1332.43,522.33Q1333.03,522.33 1333.62,522.33L1335.53,522.33Q1336.13,522.33 1336.23,521.74L1339.14,504.35Q1339.24,503.76 1339.84,503.76L1341.75,503.76Q1342.35,503.76 1342.45,504.35L1345.35,521.74Q1345.45,522.33 1345.55,521.74L1348.46,504.35Q1348.56,503.76 1348.66,504.35L1351.57,521.74Q1351.67,522.33 1352.27,522.33L1354.17,522.33Q1354.77,522.33 1355.37,522.33L1357.28,522.33Q1357.88,522.33 1357.98,521.74L1360.89,504.35Q1360.99,503.76 1361.09,504.35L1364,521.74Q1364.1,522.33 1364.69,522.33L1366.6,522.33Q1367.2,522.33 1367.3,521.74L1370.21,504.35Q1370.31,503.76 1370.41,504.35L1373.32,521.74Q1373.42,522.33 1373.52,521.74L1376.42,504.35Q1376.52,503.76 1376.62,504.35L1379.53,521.74Q1379.63,522.33 1380.23,522.33L1382.14,522.33Q1382.74,522.33 1383.34,522.33L1385.24,522.33Q1385.84,522.33 1385.94,521.74L1388.85,504.35Q1388.95,503.76 1389.05,504.35L1391.96,521.74Q1392.06,522.33 1392.16,521.74L1395.07,504.35Q1395.16,503.76 1395.26,504.35L1398.17,521.74Q1398.27,522.33 1398.87,522.33L1400.78,522.33Q1401.38,522.33 1401.48,521.74L1404.39,504.35Q1404.49,503.76 1404.59,504.35L1407.49,521.74Q1407.59,522.33 1408.19,522.33L1410.7,522.33" fill="none" stroke="#d62728" stroke-width="1.8" stroke-linejoin="round"/><circle cx="1100" cy="522.33" r="3.0" fill="#d62728"/><circle cx="1131.07" cy="503.76" r="3.0" fill="#d62728"/><circle cx="1162.14" cy="503.76" r="3.0" fill="#d62728"/><circle cx="1193.21" cy="522.33" r="3.0" fill="#d62728"/><circle cx="1224.28" cy="522.33" r="3.0" fill="#d62728"/><circle cx="1255.35" cy="522.33" r="3.0" fill="#d62728"/><circle cx="1286.42" cy="522.33" r="3.0" fill="#d62728"/><circle cx="1317.49" cy="522.33" r="3.0" fill="#d62728"/><circle cx="1348.56" cy="503.76" r="3.0" fill="#d62728"/><circle cx="1379.63" cy="522.33" r="3.0" fill="#d62728"/><circle cx="1410.7" cy="522.33" r="3.0" fill="#d62728"/></g>
<rect x="1100" y="355.7" width="310.7" height="185.7" fill="none" stroke="#222" stroke-width="1.1"/>
<path d="M1096,541.4H1100M1100,541.4V545.4M1096,504.26H1100M1162.14,541.4V545.4M1096,467.12H1100M1224.28,541.4V545.4M1096,429.98H1100M1286.42,541.4V545.4M1096,392.84H1100M1348.56,541.4V545.4M1096,355.7H1100M1410.7,541.4V545.4" stroke="#222" stroke-width="1.1"/>
<text x="1091.5" y="545.3" text-anchor="end" class="t">0</text>
<text x="1100" y="558.3" text-anchor="middle" class="t">0</text>
<text x="1091.5" y="508.16" text-anchor="end" class="t">2</text>
<text x="1162.14" y="558.3" text-anchor="middle" class="t">20</text>
<text x="1091.5" y="471.02" text-anchor="end" class="t">4</text>
<text x="1224.28" y="558.3" text-anchor="middle" class="t">40</text>
<text x="1091.5" y="433.88" text-anchor="end" class="t">6</text>
<text x="1286.42" y="558.3" text-anchor="middle" class="t">60</text>
<text x="1091.5" y="396.74" text-anchor="end" class="t">8</text>
<text x="1348.56" y="558.3" text-anchor="middle" class="t">80</text>
<text x="1091.5" y="359.6" text-anchor="end" class="t">10</text>
<text x="1410.7" y="558.3" text-anchor="middle" class="t">100</text>
<text x="1255.35" y="574.2" text-anchor="middle" class="t al">Measurement Cycle</text>
<text transform="translate(1070,448.55) rotate(-90)" text-anchor="middle" class="t al">Number of Selected Parameters</text>
<rect x="1144.85" y="355.3" width="222" height="11.8" rx="1.5" fill="#fff" fill-opacity="0.9" stroke="#ccc" stroke-width="0.9"/>
<path d="M1146.55,360.9H1160.95" stroke="#1f77b4" stroke-width="1.6"/>
<text x="1166.35" y="363.1" class="lg" textLength="25.8" lengthAdjust="spacingAndGlyphs">Original</text>
<path d="M1205.15,360.9H1219.45" stroke="#ff7f0e" stroke-width="1.6"/>
<text x="1224.95" y="363.1" class="lg" textLength="34.6" lengthAdjust="spacingAndGlyphs">G.Descent</text>
<path d="M1272.45,360.9H1286.95" stroke="#2ca02c" stroke-width="1.6"/>
<text x="1291.45" y="363.1" class="lg" textLength="18.2" lengthAdjust="spacingAndGlyphs">CHI-S</text>
<path d="M1323.35,360.9H1337.75" stroke="#d62728" stroke-width="1.6"/>
<text x="1342.35" y="363.1" class="lg" textLength="20.8" lengthAdjust="spacingAndGlyphs">CcBPS</text>
<text x="1272" y="628.6" text-anchor="middle" class="cap">(h)</text>
<clipPath id="cpi"><rect x="1538.4" y="355.6" width="310.7" height="185.7"/></clipPath>
<g clip-path="url(#cpi)"><path d="M1538.74,433.04L1564.04,433.04Q1565.84,433.04 1567.45,432.23L1567.97,431.97Q1569.58,431.17 1570.98,432.1L1570.98,432.1Q1572.38,433.04 1573.88,434.04L1576.49,435.78Q1577.99,436.78 1578.75,438.41L1580.5,442.15Q1581.26,443.79 1582.85,444.64L1585.75,446.2Q1587.34,447.06 1588.86,448.02L1598.43,454.04Q1599.95,455 1601.54,454.15L1604.44,452.58Q1606.03,451.73 1607.59,450.84L1611.01,448.88Q1612.57,447.99 1613.38,446.38L1617.37,438.39Q1618.18,436.78 1619.36,435.42L1623.53,430.65Q1624.72,429.3 1626.52,429.35L1629.46,429.43Q1631.26,429.49 1632.64,428.33L1634.56,426.72Q1635.93,425.56 1637.21,424.29L1642.14,419.36Q1643.41,418.08 1645.16,418.52L1647.27,419.05Q1649.02,419.49 1650.18,420.86L1654.4,425.87Q1655.56,427.24 1657.35,427.41L1660.78,427.73Q1662.57,427.9 1663.68,426.48L1664.74,425.11Q1665.84,423.69 1667.64,423.69L1669.65,423.69Q1671.45,423.69 1672.85,422.76L1672.85,422.76Q1674.25,421.82 1675.07,423.43L1679.98,433.11Q1680.79,434.72 1682.33,435.66L1684.87,437.23Q1686.4,438.18 1687.67,436.9L1692.14,432.44Q1693.41,431.17 1693.73,431.07L1693.73,431.07Q1694.06,430.98 1695.15,432.41L1700.25,439.08Q1701.35,440.51 1702.27,442.06L1704.63,445.98Q1705.55,447.52 1707.11,446.63L1716.6,441.22Q1718.17,440.33 1719.68,441.3L1722.73,443.28Q1724.24,444.25 1725.53,443L1732.76,435.97Q1734.06,434.72 1735.86,434.72L1744.41,434.72Q1746.21,434.72 1747.11,433.16L1748.57,430.67Q1749.48,429.11 1750.97,430.12L1754.52,432.5Q1756.02,433.5 1757.8,433.75L1763.11,434.48Q1764.9,434.72 1765.86,433.2L1767.67,430.35Q1768.64,428.83 1769.74,427.41L1775.94,419.5Q1777.05,418.08 1778.65,418.91L1778.72,418.94Q1780.32,419.77 1781.25,418.23L1782.66,415.89Q1783.59,414.35 1785.12,415.3L1785.8,415.73Q1787.33,416.68 1788.16,418.28L1792.1,425.83Q1792.93,427.43 1793.86,428.97L1797.62,435.23Q1798.54,436.78 1799.67,438.18L1804.89,444.72Q1806.02,446.12 1807.19,447.49L1810.45,451.3Q1811.63,452.66 1812.67,454.13L1813.38,455.12Q1814.43,456.59 1816.15,456.07L1816.44,455.98Q1818.17,455.47 1819.25,454.03L1822.7,449.43Q1823.78,447.99 1825.34,447.11L1829.68,444.67Q1831.25,443.79 1832.89,443.05L1838.96,440.32Q1840.6,439.58 1842,438.45L1843.87,436.97Q1845.27,435.84 1846.71,434.76L1849.01,433.04" fill="none" stroke="#1f77b4" stroke-width="1.8" stroke-linejoin="round"/><circle cx="1538.93" cy="433.04" r="3.0" fill="#1f77b4"/><circle cx="1569.58" cy="431.17" r="3.0" fill="#1f77b4"/><circle cx="1599.95" cy="455.47" r="3.0" fill="#1f77b4"/><circle cx="1631.26" cy="429.77" r="3.0" fill="#1f77b4"/><circle cx="1662.57" cy="427.9" r="3.0" fill="#1f77b4"/><circle cx="1693.41" cy="431.17" r="3.0" fill="#1f77b4"/><circle cx="1724.24" cy="444.72" r="3.0" fill="#1f77b4"/><circle cx="1756.02" cy="433.5" r="3.0" fill="#1f77b4"/><circle cx="1787.33" cy="416.68" r="3.0" fill="#1f77b4"/><circle cx="1818.17" cy="455.47" r="3.0" fill="#1f77b4"/><circle cx="1848.07" cy="433.5" r="3.0" fill="#1f77b4"/><path d="M1538.93,501.92L1564.04,501.92Q1565.84,501.92 1567.64,501.78L1567.78,501.77Q1569.58,501.64 1570.96,502.79L1571,502.82Q1572.38,503.97 1573.74,505.16L1578.51,509.33Q1579.86,510.51 1581.65,510.74L1581.81,510.76Q1583.6,510.98 1585.4,511.01L1598.15,511.23Q1599.95,511.26 1601.62,510.59L1602.49,510.25Q1604.16,509.58 1605.67,508.6L1623.21,497.28Q1624.72,496.31 1626.52,496.31L1629.46,496.31Q1631.26,496.31 1632.89,495.55L1635.24,494.45Q1636.87,493.69 1638.48,492.89L1641.8,491.23Q1643.41,490.42 1645.21,490.42L1647.22,490.42Q1649.02,490.42 1650.58,491.31L1654,493.27Q1655.56,494.16 1657.36,494.23L1660.77,494.37Q1662.57,494.44 1664.07,493.45L1664.34,493.28Q1665.84,492.29 1667.64,492.29L1672.45,492.29Q1674.25,492.29 1675.48,493.61L1679.57,497.98Q1680.79,499.3 1682.23,500.38L1684.96,502.42Q1686.4,503.5 1688.03,502.74L1691.78,500.99Q1693.41,500.23 1693.73,500.14L1693.73,500.14Q1694.06,500.05 1695.58,501L1704.03,506.29Q1705.55,507.24 1707.1,506.33L1716.62,500.68Q1718.17,499.77 1719.59,500.86L1722.82,503.34Q1724.24,504.44 1725.85,503.63L1731.98,500.57Q1733.59,499.77 1735.39,499.77L1743.94,499.77Q1745.74,499.77 1747.3,498.87L1747.92,498.51Q1749.48,497.62 1751.25,497.95L1754.25,498.5Q1756.02,498.83 1757.8,498.59L1763.11,497.86Q1764.9,497.62 1766.42,496.66L1775.52,490.91Q1777.05,489.95 1778.68,489.95L1778.68,489.95Q1780.32,489.95 1781.93,489.15L1782.45,488.89Q1784.06,488.08 1785.46,489.21L1785.92,489.58Q1787.33,490.7 1788.59,491.98L1798.21,501.75Q1799.48,503.04 1800.95,504.07L1812.02,511.82Q1813.5,512.85 1815.24,512.4L1816.43,512.09Q1818.17,511.64 1819.64,510.6L1828.85,504.08Q1830.32,503.04 1832.12,503.04L1840.67,503.04Q1842.47,503.04 1844.2,502.54L1849.01,501.17" fill="none" stroke="#ff7f0e" stroke-width="1.8" stroke-linejoin="round"/><circle cx="1538.93" cy="501.92" r="3.0" fill="#ff7f0e"/><circle cx="1569.58" cy="501.64" r="3.0" fill="#ff7f0e"/><circle cx="1599.95" cy="511.64" r="3.0" fill="#ff7f0e"/><circle cx="1631.26" cy="496.31" r="3.0" fill="#ff7f0e"/><circle cx="1662.57" cy="494.63" r="3.0" fill="#ff7f0e"/><circle cx="1693.41" cy="500.23" r="3.0" fill="#ff7f0e"/><circle cx="1724.24" cy="504.44" r="3.0" fill="#ff7f0e"/><circle cx="1756.02" cy="498.83" r="3.0" fill="#ff7f0e"/><circle cx="1787.33" cy="490.7" r="3.0" fill="#ff7f0e"/><circle cx="1818.17" cy="511.64" r="3.0" fill="#ff7f0e"/><circle cx="1848.07" cy="501.92" r="3.0" fill="#ff7f0e"/><path d="M1538.93,509.39L1564.04,509.39Q1565.84,509.39 1567.48,508.65L1567.94,508.45Q1569.58,507.71 1571.38,507.61L1576.19,507.34Q1577.99,507.24 1579.16,508.61L1580.56,510.26Q1581.73,511.64 1583.3,512.52L1591.38,517.1Q1592.94,517.99 1594.53,518.84L1598.37,520.88Q1599.95,521.73 1601.75,521.73L1610.77,521.73Q1612.57,521.73 1613.76,520.37L1617.93,515.61Q1619.11,514.25 1620.67,513.35L1623.16,511.89Q1624.72,510.98 1626.52,511.11L1629.47,511.32Q1631.26,511.45 1632.97,510.88L1635.16,510.15Q1636.87,509.58 1638.38,508.61L1641.9,506.35Q1643.41,505.37 1645.12,505.94L1647.31,506.67Q1649.02,507.24 1650.58,508.14L1654,510.09Q1655.56,510.98 1657.35,511.15L1660.78,511.47Q1662.57,511.64 1664.09,510.68L1664.32,510.54Q1665.84,509.58 1667.64,509.52L1669.65,509.45Q1671.45,509.39 1672.85,508.32L1672.85,508.32Q1674.25,507.24 1675.62,508.41L1679.43,511.68Q1680.79,512.85 1682.59,512.85L1684.6,512.85Q1686.4,512.85 1687.99,512L1691.82,509.96Q1693.41,509.11 1693.73,509.11L1693.73,509.11Q1694.06,509.11 1695.62,510.01L1699.79,512.42Q1701.35,513.32 1702.59,514.62L1704.77,516.88Q1706.02,518.18 1707.82,518.18L1722.44,518.18Q1724.24,518.18 1725.81,517.29L1732.02,513.74Q1733.59,512.85 1735.39,512.85L1743.94,512.85Q1745.74,512.85 1747.01,511.58L1748.2,510.38Q1749.48,509.11 1751.04,510.01L1754.46,511.96Q1756.02,512.85 1756.72,513.79L1756.72,513.79Q1757.42,514.72 1759.22,514.72L1763.1,514.72Q1764.9,514.72 1766.09,513.37L1767.44,511.86Q1768.64,510.51 1770.17,509.58L1775.51,506.31Q1777.05,505.37 1778.55,506.36L1778.81,506.53Q1780.32,507.52 1781.54,506.21L1782.83,504.82Q1784.06,503.5 1785.69,503.83L1785.69,503.83Q1787.33,504.16 1789.09,504.51L1789.3,504.55Q1791.07,504.91 1792.52,505.96L1798.02,509.93Q1799.48,510.98 1801.05,511.86L1806.31,514.78Q1807.89,515.65 1809.21,516.87L1812.17,519.58Q1813.5,520.79 1815.3,520.79L1816.37,520.79Q1818.17,520.79 1819.84,520.13L1823.04,518.85Q1824.71,518.18 1826.51,518.18L1831.32,518.18Q1833.12,518.18 1834.66,517.25L1849.01,508.64" fill="none" stroke="#2ca02c" stroke-width="1.8" stroke-linejoin="round"/><circle cx="1538.93" cy="509.39" r="3.0" fill="#2ca02c"/><circle cx="1569.58" cy="507.71" r="3.0" fill="#2ca02c"/><circle cx="1599.95" cy="521.73" r="3.0" fill="#2ca02c"/><circle cx="1631.26" cy="511.45" r="3.0" fill="#2ca02c"/><circle cx="1662.57" cy="511.64" r="3.0" fill="#2ca02c"/><circle cx="1693.41" cy="509.11" r="3.0" fill="#2ca02c"/><circle cx="1724.24" cy="518.18" r="3.0" fill="#2ca02c"/><circle cx="1756.02" cy="512.85" r="3.0" fill="#2ca02c"/><circle cx="1787.33" cy="504.16" r="3.0" fill="#2ca02c"/><circle cx="1818.17" cy="520.79" r="3.0" fill="#2ca02c"/><circle cx="1848.07" cy="509.11" r="3.0" fill="#2ca02c"/><path d="M1538.93,518.46L1578.99,518.46Q1580.79,518.46 1582.46,519.15L1584.74,520.1Q1586.4,520.79 1588.15,521.23L1590.26,521.76Q1592.01,522.2 1593.8,522.34L1598.16,522.7Q1599.95,522.85 1601.75,522.8L1610.77,522.53Q1612.57,522.48 1614.24,521.81L1617.44,520.53Q1619.11,519.86 1620.88,519.51L1622.95,519.09Q1624.72,518.74 1626.52,518.66L1629.46,518.54Q1631.26,518.46 1633.06,518.46L1638.81,518.46Q1640.61,518.46 1642.17,517.56L1645.59,515.61Q1647.15,514.72 1648.95,514.72L1649.09,514.72Q1650.89,514.72 1652.6,515.29L1654.79,516.02Q1656.5,516.59 1658.29,516.73L1660.78,516.92Q1662.57,517.06 1664.25,516.41L1666.96,515.37Q1668.64,514.72 1670.44,514.72L1672.45,514.72Q1674.25,514.72 1675.82,515.61L1679.23,517.56Q1680.79,518.46 1682.59,518.46L1691.61,518.46Q1693.41,518.46 1693.73,518.46L1693.73,518.46Q1694.06,518.46 1695.8,518.91L1699.6,519.88Q1701.35,520.33 1703.05,520.9L1705.25,521.63Q1706.95,522.2 1708.75,522.23L1722.44,522.45Q1724.24,522.48 1725.71,521.44L1728.85,519.22Q1730.32,518.18 1732.12,518.2L1754.22,518.44Q1756.02,518.46 1757.55,519.4L1760.56,521.25Q1762.09,522.2 1763.64,521.27L1769.9,517.51Q1771.44,516.59 1773.24,516.59L1775.25,516.59Q1777.05,516.59 1778.69,515.84L1785.69,512.66Q1787.33,511.92 1789.09,511.56L1790.23,511.33Q1792,510.98 1793.58,511.84L1800.7,515.73Q1802.28,516.59 1804.08,516.59L1806.09,516.59Q1807.89,516.59 1809.41,517.56L1816.65,522.16Q1818.17,523.13 1819.91,522.69L1820.16,522.63Q1821.91,522.2 1823.71,522.2L1831.32,522.2Q1833.12,522.2 1834.65,521.25L1849.01,512.38" fill="none" stroke="#d62728" stroke-width="1.8" stroke-linejoin="round"/><circle cx="1538.93" cy="518.46" r="3.0" fill="#d62728"/><circle cx="1569.58" cy="518.74" r="3.0" fill="#d62728"/><circle cx="1599.95" cy="523.13" r="3.0" fill="#d62728"/><circle cx="1631.26" cy="518.46" r="3.0" fill="#d62728"/><circle cx="1662.57" cy="517.06" r="3.0" fill="#d62728"/><circle cx="1693.41" cy="518.46" r="3.0" fill="#d62728"/><circle cx="1724.24" cy="522.66" r="3.0" fill="#d62728"/><circle cx="1756.02" cy="518.46" r="3.0" fill="#d62728"/><circle cx="1787.33" cy="511.64" r="3.0" fill="#d62728"/><circle cx="1818.17" cy="523.13" r="3.0" fill="#d62728"/><circle cx="1848.07" cy="513.32" r="3.0" fill="#d62728"/></g>
<rect x="1538.4" y="355.6" width="310.7" height="185.7" fill="none" stroke="#222" stroke-width="1.1"/>
<path d="M1534.4,541.3H1538.4M1538.4,541.3V545.3M1534.4,504.16H1538.4M1600.54,541.3V545.3M1534.4,467.02H1538.4M1662.68,541.3V545.3M1534.4,429.88H1538.4M1724.82,541.3V545.3M1534.4,392.74H1538.4M1786.96,541.3V545.3M1534.4,355.6H1538.4M1849.1,541.3V545.3" stroke="#222" stroke-width="1.1"/>
<text x="1529.9" y="545.2" text-anchor="end" class="t">0</text>
<text x="1538.4" y="558.2" text-anchor="middle" class="t">0</text>
<text x="1529.9" y="508.06" text-anchor="end" class="t">2</text>
<text x="1600.54" y="558.2" text-anchor="middle" class="t">20</text>
<text x="1529.9" y="470.92" text-anchor="end" class="t">4</text>
<text x="1662.68" y="558.2" text-anchor="middle" class="t">40</text>
<text x="1529.9" y="433.78" text-anchor="end" class="t">6</text>
<text x="1724.82" y="558.2" text-anchor="middle" class="t">60</text>
<text x="1529.9" y="396.64" text-anchor="end" class="t">8</text>
<text x="1786.96" y="558.2" text-anchor="middle" class="t">80</text>
<text x="1529.9" y="359.5" text-anchor="end" class="t">10</text>
<text x="1849.1" y="558.2" text-anchor="middle" class="t">100</text>
<text x="1693.75" y="574.1" text-anchor="middle" class="t al">Measurement Cycle</text>
<text transform="translate(1508.4,448.45) rotate(-90)" text-anchor="middle" class="t al">Number of Selected Parameters</text>
<rect x="1583.25" y="355.2" width="222" height="11.8" rx="1.5" fill="#fff" fill-opacity="0.9" stroke="#ccc" stroke-width="0.9"/>
<path d="M1584.95,360.8H1599.35" stroke="#1f77b4" stroke-width="1.6"/>
<text x="1604.75" y="363" class="lg" textLength="25.8" lengthAdjust="spacingAndGlyphs">Original</text>
<path d="M1643.55,360.8H1657.85" stroke="#ff7f0e" stroke-width="1.6"/>
<text x="1663.35" y="363" class="lg" textLength="34.6" lengthAdjust="spacingAndGlyphs">G.Descent</text>
<path d="M1710.85,360.8H1725.35" stroke="#2ca02c" stroke-width="1.6"/>
<text x="1729.85" y="363" class="lg" textLength="18.2" lengthAdjust="spacingAndGlyphs">CHI-S</text>
<path d="M1761.75,360.8H1776.15" stroke="#d62728" stroke-width="1.6"/>
<text x="1780.75" y="363" class="lg" textLength="20.8" lengthAdjust="spacingAndGlyphs">CcBPS</text>
<text x="1704.8" y="628.6" text-anchor="middle" class="cap">(i)</text>
</svg></body></html>
